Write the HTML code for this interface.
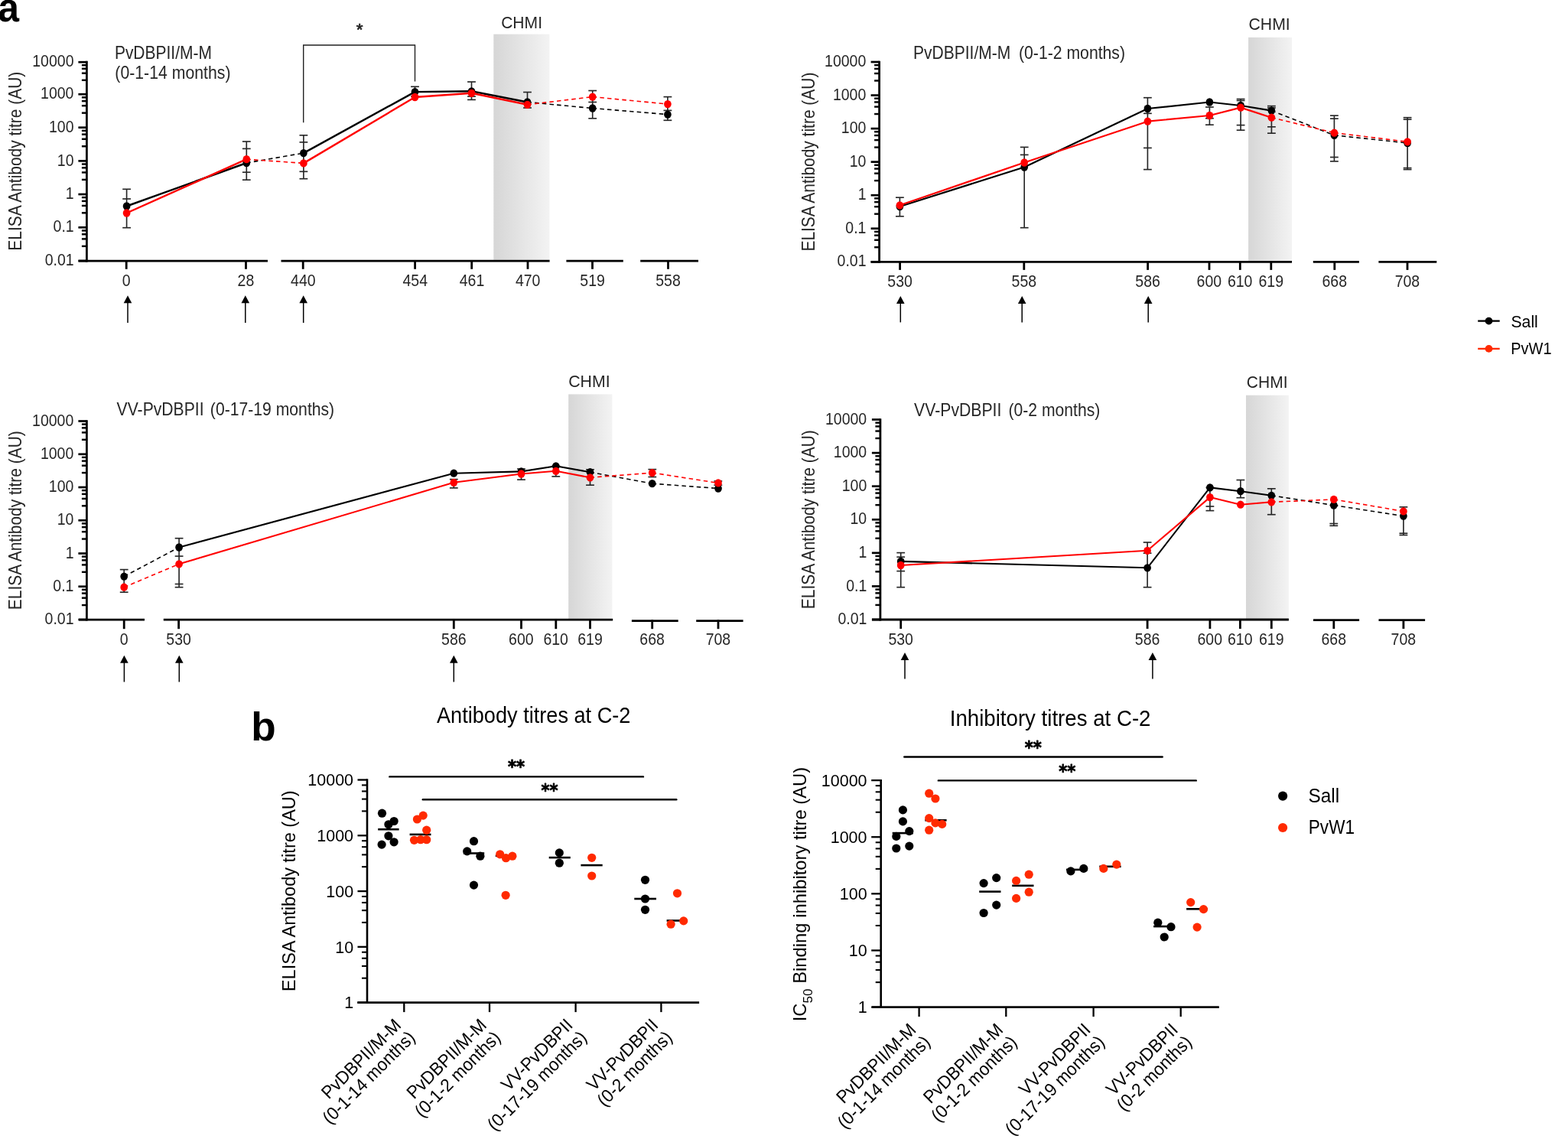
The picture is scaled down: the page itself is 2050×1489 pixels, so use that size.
<!DOCTYPE html>
<html><head><meta charset="utf-8"><title>Figure</title><style>html,body{margin:0;padding:0;background:#fff;}svg{display:block;}</style></head><body>
<svg width="2050" height="1489" viewBox="0 0 2050 1489" font-family="'Liberation Sans', Arial, sans-serif">
<rect width="2050" height="1489" fill="#fff"/>
<text x="-2.80" y="27.80" font-size="53.00" fill="#000" font-weight="bold" textLength="27.76" lengthAdjust="spacingAndGlyphs" xml:space="preserve">a</text>
<text x="328.35" y="968.20" font-size="51.00" fill="#000" font-weight="bold" textLength="32.42" lengthAdjust="spacingAndGlyphs" xml:space="preserve">b</text>
<defs><linearGradient id="g1" x1="0" y1="0" x2="1" y2="0"><stop offset="0" stop-color="#d6d6d6"/><stop offset="1" stop-color="#f3f3f3"/></linearGradient></defs>
<rect x="645.30" y="44.70" width="73.10" height="295.10" fill="url(#g1)"/>
<text x="655.15" y="37.30" font-size="22.60" fill="#262626" textLength="53.86" lengthAdjust="spacingAndGlyphs" xml:space="preserve">CHMI</text>
<line x1="113.40" y1="79.85" x2="113.40" y2="342.40" stroke="#000" stroke-width="2.8" stroke-linecap="butt"/>
<line x1="102.40" y1="81.20" x2="113.40" y2="81.20" stroke="#000" stroke-width="2.7" stroke-linecap="butt"/>
<line x1="106.90" y1="85.19" x2="113.40" y2="85.19" stroke="#000" stroke-width="2.43" stroke-linecap="butt"/>
<line x1="106.90" y1="89.81" x2="113.40" y2="89.81" stroke="#000" stroke-width="2.43" stroke-linecap="butt"/>
<line x1="106.90" y1="95.69" x2="113.40" y2="95.69" stroke="#000" stroke-width="2.43" stroke-linecap="butt"/>
<line x1="106.90" y1="104.80" x2="113.40" y2="104.80" stroke="#000" stroke-width="2.43" stroke-linecap="butt"/>
<line x1="102.40" y1="123.20" x2="113.40" y2="123.20" stroke="#000" stroke-width="2.7" stroke-linecap="butt"/>
<line x1="106.90" y1="127.33" x2="113.40" y2="127.33" stroke="#000" stroke-width="2.43" stroke-linecap="butt"/>
<line x1="106.90" y1="132.12" x2="113.40" y2="132.12" stroke="#000" stroke-width="2.43" stroke-linecap="butt"/>
<line x1="106.90" y1="138.21" x2="113.40" y2="138.21" stroke="#000" stroke-width="2.43" stroke-linecap="butt"/>
<line x1="106.90" y1="147.65" x2="113.40" y2="147.65" stroke="#000" stroke-width="2.43" stroke-linecap="butt"/>
<line x1="102.40" y1="166.70" x2="113.40" y2="166.70" stroke="#000" stroke-width="2.7" stroke-linecap="butt"/>
<line x1="106.90" y1="170.85" x2="113.40" y2="170.85" stroke="#000" stroke-width="2.43" stroke-linecap="butt"/>
<line x1="106.90" y1="175.66" x2="113.40" y2="175.66" stroke="#000" stroke-width="2.43" stroke-linecap="butt"/>
<line x1="106.90" y1="181.78" x2="113.40" y2="181.78" stroke="#000" stroke-width="2.43" stroke-linecap="butt"/>
<line x1="106.90" y1="191.26" x2="113.40" y2="191.26" stroke="#000" stroke-width="2.43" stroke-linecap="butt"/>
<line x1="102.40" y1="210.40" x2="113.40" y2="210.40" stroke="#000" stroke-width="2.7" stroke-linecap="butt"/>
<line x1="106.90" y1="214.54" x2="113.40" y2="214.54" stroke="#000" stroke-width="2.43" stroke-linecap="butt"/>
<line x1="106.90" y1="219.34" x2="113.40" y2="219.34" stroke="#000" stroke-width="2.43" stroke-linecap="butt"/>
<line x1="106.90" y1="225.44" x2="113.40" y2="225.44" stroke="#000" stroke-width="2.43" stroke-linecap="butt"/>
<line x1="106.90" y1="234.90" x2="113.40" y2="234.90" stroke="#000" stroke-width="2.43" stroke-linecap="butt"/>
<line x1="102.40" y1="254.00" x2="113.40" y2="254.00" stroke="#000" stroke-width="2.7" stroke-linecap="butt"/>
<line x1="106.90" y1="258.11" x2="113.40" y2="258.11" stroke="#000" stroke-width="2.43" stroke-linecap="butt"/>
<line x1="106.90" y1="262.88" x2="113.40" y2="262.88" stroke="#000" stroke-width="2.43" stroke-linecap="butt"/>
<line x1="106.90" y1="268.94" x2="113.40" y2="268.94" stroke="#000" stroke-width="2.43" stroke-linecap="butt"/>
<line x1="106.90" y1="278.33" x2="113.40" y2="278.33" stroke="#000" stroke-width="2.43" stroke-linecap="butt"/>
<line x1="102.40" y1="297.30" x2="113.40" y2="297.30" stroke="#000" stroke-width="2.7" stroke-linecap="butt"/>
<line x1="106.90" y1="301.45" x2="113.40" y2="301.45" stroke="#000" stroke-width="2.43" stroke-linecap="butt"/>
<line x1="106.90" y1="306.26" x2="113.40" y2="306.26" stroke="#000" stroke-width="2.43" stroke-linecap="butt"/>
<line x1="106.90" y1="312.38" x2="113.40" y2="312.38" stroke="#000" stroke-width="2.43" stroke-linecap="butt"/>
<line x1="106.90" y1="321.86" x2="113.40" y2="321.86" stroke="#000" stroke-width="2.43" stroke-linecap="butt"/>
<line x1="102.40" y1="341.00" x2="113.40" y2="341.00" stroke="#000" stroke-width="2.7" stroke-linecap="butt"/>
<text x="42.27" y="87.30" font-size="22.00" fill="#262626" textLength="54.23" lengthAdjust="spacingAndGlyphs" xml:space="preserve">10000</text>
<text x="53.09" y="129.30" font-size="22.00" fill="#262626" textLength="43.38" lengthAdjust="spacingAndGlyphs" xml:space="preserve">1000</text>
<text x="64.02" y="172.80" font-size="22.00" fill="#262626" textLength="32.54" lengthAdjust="spacingAndGlyphs" xml:space="preserve">100</text>
<text x="74.84" y="216.50" font-size="22.00" fill="#262626" textLength="21.69" lengthAdjust="spacingAndGlyphs" xml:space="preserve">10</text>
<text x="85.85" y="260.10" font-size="22.00" fill="#262626" textLength="10.85" lengthAdjust="spacingAndGlyphs" xml:space="preserve">1</text>
<text x="69.57" y="303.40" font-size="22.00" fill="#262626" textLength="27.11" lengthAdjust="spacingAndGlyphs" xml:space="preserve">0.1</text>
<text x="58.75" y="347.10" font-size="22.00" fill="#262626" textLength="37.95" lengthAdjust="spacingAndGlyphs" xml:space="preserve">0.01</text>
<line x1="102.60" y1="341.20" x2="350.00" y2="341.20" stroke="#000" stroke-width="2.8" stroke-linecap="butt"/>
<line x1="367.50" y1="341.20" x2="718.60" y2="341.20" stroke="#000" stroke-width="2.8" stroke-linecap="butt"/>
<line x1="740.40" y1="341.20" x2="814.80" y2="341.20" stroke="#000" stroke-width="2.8" stroke-linecap="butt"/>
<line x1="837.20" y1="341.20" x2="913.00" y2="341.20" stroke="#000" stroke-width="2.8" stroke-linecap="butt"/>
<line x1="165.20" y1="341.20" x2="165.20" y2="351.80" stroke="#000" stroke-width="2.8" stroke-linecap="butt"/>
<text x="159.74" y="373.60" font-size="22.00" fill="#262626" textLength="10.85" lengthAdjust="spacingAndGlyphs" xml:space="preserve">0</text>
<line x1="321.50" y1="341.20" x2="321.50" y2="351.80" stroke="#000" stroke-width="2.8" stroke-linecap="butt"/>
<text x="310.58" y="373.60" font-size="22.00" fill="#262626" textLength="21.69" lengthAdjust="spacingAndGlyphs" xml:space="preserve">28</text>
<line x1="396.20" y1="341.20" x2="396.20" y2="351.80" stroke="#000" stroke-width="2.8" stroke-linecap="butt"/>
<text x="380.11" y="373.60" font-size="22.00" fill="#262626" textLength="32.54" lengthAdjust="spacingAndGlyphs" xml:space="preserve">440</text>
<line x1="542.60" y1="341.20" x2="542.60" y2="351.80" stroke="#000" stroke-width="2.8" stroke-linecap="butt"/>
<text x="526.46" y="373.60" font-size="22.00" fill="#262626" textLength="32.54" lengthAdjust="spacingAndGlyphs" xml:space="preserve">454</text>
<line x1="616.70" y1="341.20" x2="616.70" y2="351.80" stroke="#000" stroke-width="2.8" stroke-linecap="butt"/>
<text x="600.71" y="373.60" font-size="22.00" fill="#262626" textLength="32.54" lengthAdjust="spacingAndGlyphs" xml:space="preserve">461</text>
<line x1="690.00" y1="341.20" x2="690.00" y2="351.80" stroke="#000" stroke-width="2.8" stroke-linecap="butt"/>
<text x="673.91" y="373.60" font-size="22.00" fill="#262626" textLength="32.54" lengthAdjust="spacingAndGlyphs" xml:space="preserve">470</text>
<line x1="774.50" y1="341.20" x2="774.50" y2="351.80" stroke="#000" stroke-width="2.8" stroke-linecap="butt"/>
<text x="758.32" y="373.60" font-size="22.00" fill="#262626" textLength="32.54" lengthAdjust="spacingAndGlyphs" xml:space="preserve">519</text>
<line x1="873.50" y1="341.20" x2="873.50" y2="351.80" stroke="#000" stroke-width="2.8" stroke-linecap="butt"/>
<text x="857.27" y="373.60" font-size="22.00" fill="#262626" textLength="32.54" lengthAdjust="spacingAndGlyphs" xml:space="preserve">558</text>
<line x1="167.00" y1="395.30" x2="167.00" y2="422.00" stroke="#000" stroke-width="1.5" stroke-linecap="butt"/>
<path d="M161.70,396.30 L167.00,386.30 L172.30,396.30 Z" fill="#000"/>
<line x1="320.80" y1="395.30" x2="320.80" y2="422.00" stroke="#000" stroke-width="1.5" stroke-linecap="butt"/>
<path d="M315.50,396.30 L320.80,386.30 L326.10,396.30 Z" fill="#000"/>
<line x1="396.70" y1="395.30" x2="396.70" y2="422.00" stroke="#000" stroke-width="1.5" stroke-linecap="butt"/>
<path d="M391.40,396.30 L396.70,386.30 L402.00,396.30 Z" fill="#000"/>
<text x="-89.38" y="210.50" font-size="24.00" fill="#262626" textLength="233.98" lengthAdjust="spacingAndGlyphs" transform="rotate(-90 27.80 210.50)" xml:space="preserve">ELISA Antibody titre (AU)</text>
<text x="149.92" y="77.10" font-size="23.20" fill="#262626" textLength="126.97" lengthAdjust="spacingAndGlyphs" xml:space="preserve">PvDBPII/M-M</text>
<text x="150.33" y="102.70" font-size="23.20" fill="#262626" textLength="151.14" lengthAdjust="spacingAndGlyphs" xml:space="preserve">(0-1-14 months)</text>
<path d="M396.7,160.3 L396.7,59 L542.5,59 L542.5,106.5" fill="none" stroke="#222" stroke-width="1.4"/>
<text x="465.66" y="46.39" font-size="21.43" fill="#222" textLength="8.86" lengthAdjust="spacingAndGlyphs" stroke="#222" stroke-width="0.7" stroke-linejoin="round">*</text>
<line x1="165.60" y1="247.30" x2="165.60" y2="297.70" stroke="#262626" stroke-width="1.65" stroke-linecap="butt"/>
<line x1="160.20" y1="247.30" x2="171.00" y2="247.30" stroke="#262626" stroke-width="1.65" stroke-linecap="butt"/>
<line x1="160.20" y1="260.00" x2="171.00" y2="260.00" stroke="#262626" stroke-width="1.65" stroke-linecap="butt"/>
<line x1="160.20" y1="297.70" x2="171.00" y2="297.70" stroke="#262626" stroke-width="1.65" stroke-linecap="butt"/>
<line x1="322.30" y1="185.00" x2="322.30" y2="235.20" stroke="#262626" stroke-width="1.65" stroke-linecap="butt"/>
<line x1="316.90" y1="185.00" x2="327.70" y2="185.00" stroke="#262626" stroke-width="1.65" stroke-linecap="butt"/>
<line x1="316.90" y1="194.40" x2="327.70" y2="194.40" stroke="#262626" stroke-width="1.65" stroke-linecap="butt"/>
<line x1="316.90" y1="225.20" x2="327.70" y2="225.20" stroke="#262626" stroke-width="1.65" stroke-linecap="butt"/>
<line x1="316.90" y1="235.20" x2="327.70" y2="235.20" stroke="#262626" stroke-width="1.65" stroke-linecap="butt"/>
<line x1="396.90" y1="176.80" x2="396.90" y2="233.70" stroke="#262626" stroke-width="1.65" stroke-linecap="butt"/>
<line x1="391.50" y1="176.80" x2="402.30" y2="176.80" stroke="#262626" stroke-width="1.65" stroke-linecap="butt"/>
<line x1="391.50" y1="185.90" x2="402.30" y2="185.90" stroke="#262626" stroke-width="1.65" stroke-linecap="butt"/>
<line x1="391.50" y1="224.30" x2="402.30" y2="224.30" stroke="#262626" stroke-width="1.65" stroke-linecap="butt"/>
<line x1="391.50" y1="233.70" x2="402.30" y2="233.70" stroke="#262626" stroke-width="1.65" stroke-linecap="butt"/>
<line x1="542.50" y1="113.30" x2="542.50" y2="126.00" stroke="#262626" stroke-width="1.65" stroke-linecap="butt"/>
<line x1="537.10" y1="113.30" x2="547.90" y2="113.30" stroke="#262626" stroke-width="1.65" stroke-linecap="butt"/>
<line x1="537.10" y1="126.00" x2="547.90" y2="126.00" stroke="#262626" stroke-width="1.65" stroke-linecap="butt"/>
<line x1="616.50" y1="107.00" x2="616.50" y2="130.40" stroke="#262626" stroke-width="1.65" stroke-linecap="butt"/>
<line x1="611.10" y1="107.00" x2="621.90" y2="107.00" stroke="#262626" stroke-width="1.65" stroke-linecap="butt"/>
<line x1="611.10" y1="126.10" x2="621.90" y2="126.10" stroke="#262626" stroke-width="1.65" stroke-linecap="butt"/>
<line x1="611.10" y1="130.40" x2="621.90" y2="130.40" stroke="#262626" stroke-width="1.65" stroke-linecap="butt"/>
<line x1="689.50" y1="120.50" x2="689.50" y2="141.00" stroke="#262626" stroke-width="1.65" stroke-linecap="butt"/>
<line x1="684.10" y1="120.50" x2="694.90" y2="120.50" stroke="#262626" stroke-width="1.65" stroke-linecap="butt"/>
<line x1="684.10" y1="141.00" x2="694.90" y2="141.00" stroke="#262626" stroke-width="1.65" stroke-linecap="butt"/>
<line x1="774.70" y1="118.50" x2="774.70" y2="154.80" stroke="#262626" stroke-width="1.65" stroke-linecap="butt"/>
<line x1="769.30" y1="118.50" x2="780.10" y2="118.50" stroke="#262626" stroke-width="1.65" stroke-linecap="butt"/>
<line x1="769.30" y1="133.50" x2="780.10" y2="133.50" stroke="#262626" stroke-width="1.65" stroke-linecap="butt"/>
<line x1="769.30" y1="154.80" x2="780.10" y2="154.80" stroke="#262626" stroke-width="1.65" stroke-linecap="butt"/>
<line x1="872.90" y1="126.60" x2="872.90" y2="157.30" stroke="#262626" stroke-width="1.65" stroke-linecap="butt"/>
<line x1="867.50" y1="126.60" x2="878.30" y2="126.60" stroke="#262626" stroke-width="1.65" stroke-linecap="butt"/>
<line x1="867.50" y1="144.40" x2="878.30" y2="144.40" stroke="#262626" stroke-width="1.65" stroke-linecap="butt"/>
<line x1="867.50" y1="157.30" x2="878.30" y2="157.30" stroke="#262626" stroke-width="1.65" stroke-linecap="butt"/>
<line x1="165.60" y1="269.50" x2="322.30" y2="213.00" stroke="#000" stroke-width="2.4" stroke-linecap="round"/>
<line x1="322.30" y1="213.00" x2="396.90" y2="200.10" stroke="#000" stroke-width="1.6" stroke-linecap="butt" stroke-dasharray="5.5,4.2"/>
<line x1="396.90" y1="200.10" x2="542.50" y2="120.10" stroke="#000" stroke-width="2.4" stroke-linecap="round"/>
<line x1="542.50" y1="120.10" x2="616.50" y2="119.30" stroke="#000" stroke-width="2.4" stroke-linecap="round"/>
<line x1="616.50" y1="119.30" x2="689.50" y2="133.50" stroke="#000" stroke-width="2.4" stroke-linecap="round"/>
<line x1="689.50" y1="133.50" x2="774.70" y2="141.50" stroke="#000" stroke-width="1.6" stroke-linecap="butt" stroke-dasharray="5.5,4.2"/>
<line x1="774.70" y1="141.50" x2="872.90" y2="149.60" stroke="#000" stroke-width="1.6" stroke-linecap="butt" stroke-dasharray="5.5,4.2"/>
<line x1="165.60" y1="278.50" x2="322.30" y2="208.20" stroke="#ff0000" stroke-width="2.4" stroke-linecap="round"/>
<line x1="322.30" y1="208.20" x2="396.90" y2="213.40" stroke="#ff0000" stroke-width="1.6" stroke-linecap="butt" stroke-dasharray="5.5,4.2"/>
<line x1="396.90" y1="213.40" x2="542.50" y2="127.00" stroke="#ff0000" stroke-width="2.4" stroke-linecap="round"/>
<line x1="542.50" y1="127.00" x2="616.50" y2="121.80" stroke="#ff0000" stroke-width="2.4" stroke-linecap="round"/>
<line x1="616.50" y1="121.80" x2="689.50" y2="136.80" stroke="#ff0000" stroke-width="2.4" stroke-linecap="round"/>
<line x1="689.50" y1="136.80" x2="774.70" y2="126.60" stroke="#ff0000" stroke-width="1.6" stroke-linecap="butt" stroke-dasharray="5.5,4.2"/>
<line x1="774.70" y1="126.60" x2="872.90" y2="136.10" stroke="#ff0000" stroke-width="1.6" stroke-linecap="butt" stroke-dasharray="5.5,4.2"/>
<ellipse cx="165.60" cy="269.50" rx="4.85" ry="5.15" fill="#000"/>
<ellipse cx="322.30" cy="213.00" rx="4.85" ry="5.15" fill="#000"/>
<ellipse cx="396.90" cy="200.10" rx="4.85" ry="5.15" fill="#000"/>
<ellipse cx="542.50" cy="120.10" rx="4.85" ry="5.15" fill="#000"/>
<ellipse cx="616.50" cy="119.30" rx="4.85" ry="5.15" fill="#000"/>
<ellipse cx="689.50" cy="133.50" rx="4.85" ry="5.15" fill="#000"/>
<ellipse cx="774.70" cy="141.50" rx="4.85" ry="5.15" fill="#000"/>
<ellipse cx="872.90" cy="149.60" rx="4.85" ry="5.15" fill="#000"/>
<ellipse cx="165.60" cy="278.50" rx="4.85" ry="5.15" fill="#ff0000"/>
<ellipse cx="322.30" cy="208.20" rx="4.85" ry="5.15" fill="#ff0000"/>
<ellipse cx="396.90" cy="213.40" rx="4.85" ry="5.15" fill="#ff0000"/>
<ellipse cx="542.50" cy="127.00" rx="4.85" ry="5.15" fill="#ff0000"/>
<ellipse cx="616.50" cy="121.80" rx="4.85" ry="5.15" fill="#ff0000"/>
<ellipse cx="689.50" cy="136.80" rx="4.85" ry="5.15" fill="#ff0000"/>
<ellipse cx="774.70" cy="126.60" rx="4.85" ry="5.15" fill="#ff0000"/>
<ellipse cx="872.90" cy="136.10" rx="4.85" ry="5.15" fill="#ff0000"/>
<defs><linearGradient id="g2" x1="0" y1="0" x2="1" y2="0"><stop offset="0" stop-color="#d6d6d6"/><stop offset="1" stop-color="#f3f3f3"/></linearGradient></defs>
<rect x="1632.10" y="48.90" width="56.90" height="291.90" fill="url(#g2)"/>
<text x="1632.54" y="38.80" font-size="22.60" fill="#262626" textLength="54.18" lengthAdjust="spacingAndGlyphs" xml:space="preserve">CHMI</text>
<line x1="1149.60" y1="79.65" x2="1149.60" y2="343.70" stroke="#000" stroke-width="2.8" stroke-linecap="butt"/>
<line x1="1138.60" y1="81.00" x2="1149.60" y2="81.00" stroke="#000" stroke-width="2.7" stroke-linecap="butt"/>
<line x1="1143.10" y1="85.14" x2="1149.60" y2="85.14" stroke="#000" stroke-width="2.43" stroke-linecap="butt"/>
<line x1="1143.10" y1="89.93" x2="1149.60" y2="89.93" stroke="#000" stroke-width="2.43" stroke-linecap="butt"/>
<line x1="1143.10" y1="96.02" x2="1149.60" y2="96.02" stroke="#000" stroke-width="2.43" stroke-linecap="butt"/>
<line x1="1143.10" y1="105.48" x2="1149.60" y2="105.48" stroke="#000" stroke-width="2.43" stroke-linecap="butt"/>
<line x1="1138.60" y1="124.55" x2="1149.60" y2="124.55" stroke="#000" stroke-width="2.7" stroke-linecap="butt"/>
<line x1="1143.10" y1="128.69" x2="1149.60" y2="128.69" stroke="#000" stroke-width="2.43" stroke-linecap="butt"/>
<line x1="1143.10" y1="133.48" x2="1149.60" y2="133.48" stroke="#000" stroke-width="2.43" stroke-linecap="butt"/>
<line x1="1143.10" y1="139.57" x2="1149.60" y2="139.57" stroke="#000" stroke-width="2.43" stroke-linecap="butt"/>
<line x1="1143.10" y1="149.03" x2="1149.60" y2="149.03" stroke="#000" stroke-width="2.43" stroke-linecap="butt"/>
<line x1="1138.60" y1="168.10" x2="1149.60" y2="168.10" stroke="#000" stroke-width="2.7" stroke-linecap="butt"/>
<line x1="1143.10" y1="172.24" x2="1149.60" y2="172.24" stroke="#000" stroke-width="2.43" stroke-linecap="butt"/>
<line x1="1143.10" y1="177.03" x2="1149.60" y2="177.03" stroke="#000" stroke-width="2.43" stroke-linecap="butt"/>
<line x1="1143.10" y1="183.12" x2="1149.60" y2="183.12" stroke="#000" stroke-width="2.43" stroke-linecap="butt"/>
<line x1="1143.10" y1="192.58" x2="1149.60" y2="192.58" stroke="#000" stroke-width="2.43" stroke-linecap="butt"/>
<line x1="1138.60" y1="211.65" x2="1149.60" y2="211.65" stroke="#000" stroke-width="2.7" stroke-linecap="butt"/>
<line x1="1143.10" y1="215.79" x2="1149.60" y2="215.79" stroke="#000" stroke-width="2.43" stroke-linecap="butt"/>
<line x1="1143.10" y1="220.58" x2="1149.60" y2="220.58" stroke="#000" stroke-width="2.43" stroke-linecap="butt"/>
<line x1="1143.10" y1="226.67" x2="1149.60" y2="226.67" stroke="#000" stroke-width="2.43" stroke-linecap="butt"/>
<line x1="1143.10" y1="236.13" x2="1149.60" y2="236.13" stroke="#000" stroke-width="2.43" stroke-linecap="butt"/>
<line x1="1138.60" y1="255.20" x2="1149.60" y2="255.20" stroke="#000" stroke-width="2.7" stroke-linecap="butt"/>
<line x1="1143.10" y1="259.34" x2="1149.60" y2="259.34" stroke="#000" stroke-width="2.43" stroke-linecap="butt"/>
<line x1="1143.10" y1="264.13" x2="1149.60" y2="264.13" stroke="#000" stroke-width="2.43" stroke-linecap="butt"/>
<line x1="1143.10" y1="270.22" x2="1149.60" y2="270.22" stroke="#000" stroke-width="2.43" stroke-linecap="butt"/>
<line x1="1143.10" y1="279.68" x2="1149.60" y2="279.68" stroke="#000" stroke-width="2.43" stroke-linecap="butt"/>
<line x1="1138.60" y1="298.75" x2="1149.60" y2="298.75" stroke="#000" stroke-width="2.7" stroke-linecap="butt"/>
<line x1="1143.10" y1="302.89" x2="1149.60" y2="302.89" stroke="#000" stroke-width="2.43" stroke-linecap="butt"/>
<line x1="1143.10" y1="307.68" x2="1149.60" y2="307.68" stroke="#000" stroke-width="2.43" stroke-linecap="butt"/>
<line x1="1143.10" y1="313.77" x2="1149.60" y2="313.77" stroke="#000" stroke-width="2.43" stroke-linecap="butt"/>
<line x1="1143.10" y1="323.23" x2="1149.60" y2="323.23" stroke="#000" stroke-width="2.43" stroke-linecap="butt"/>
<line x1="1138.60" y1="342.30" x2="1149.60" y2="342.30" stroke="#000" stroke-width="2.7" stroke-linecap="butt"/>
<text x="1078.07" y="87.10" font-size="22.00" fill="#262626" textLength="54.23" lengthAdjust="spacingAndGlyphs" xml:space="preserve">10000</text>
<text x="1088.89" y="130.65" font-size="22.00" fill="#262626" textLength="43.38" lengthAdjust="spacingAndGlyphs" xml:space="preserve">1000</text>
<text x="1099.81" y="174.20" font-size="22.00" fill="#262626" textLength="32.54" lengthAdjust="spacingAndGlyphs" xml:space="preserve">100</text>
<text x="1110.64" y="217.75" font-size="22.00" fill="#262626" textLength="21.69" lengthAdjust="spacingAndGlyphs" xml:space="preserve">10</text>
<text x="1121.65" y="261.30" font-size="22.00" fill="#262626" textLength="10.85" lengthAdjust="spacingAndGlyphs" xml:space="preserve">1</text>
<text x="1105.37" y="304.85" font-size="22.00" fill="#262626" textLength="27.11" lengthAdjust="spacingAndGlyphs" xml:space="preserve">0.1</text>
<text x="1094.55" y="348.40" font-size="22.00" fill="#262626" textLength="37.95" lengthAdjust="spacingAndGlyphs" xml:space="preserve">0.01</text>
<line x1="1138.50" y1="342.30" x2="1689.00" y2="342.30" stroke="#000" stroke-width="2.8" stroke-linecap="butt"/>
<line x1="1716.80" y1="342.30" x2="1776.90" y2="342.30" stroke="#000" stroke-width="2.8" stroke-linecap="butt"/>
<line x1="1802.40" y1="342.30" x2="1878.30" y2="342.30" stroke="#000" stroke-width="2.8" stroke-linecap="butt"/>
<line x1="1176.60" y1="342.30" x2="1176.60" y2="352.90" stroke="#000" stroke-width="2.8" stroke-linecap="butt"/>
<text x="1160.32" y="374.60" font-size="22.00" fill="#262626" textLength="32.54" lengthAdjust="spacingAndGlyphs" xml:space="preserve">530</text>
<line x1="1338.80" y1="342.30" x2="1338.80" y2="352.90" stroke="#000" stroke-width="2.8" stroke-linecap="butt"/>
<text x="1322.57" y="374.60" font-size="22.00" fill="#262626" textLength="32.54" lengthAdjust="spacingAndGlyphs" xml:space="preserve">558</text>
<line x1="1500.60" y1="342.30" x2="1500.60" y2="352.90" stroke="#000" stroke-width="2.8" stroke-linecap="butt"/>
<text x="1484.37" y="374.60" font-size="22.00" fill="#262626" textLength="32.54" lengthAdjust="spacingAndGlyphs" xml:space="preserve">586</text>
<line x1="1581.00" y1="342.30" x2="1581.00" y2="352.90" stroke="#000" stroke-width="2.8" stroke-linecap="butt"/>
<text x="1564.62" y="374.60" font-size="22.00" fill="#262626" textLength="32.54" lengthAdjust="spacingAndGlyphs" xml:space="preserve">600</text>
<line x1="1621.30" y1="342.30" x2="1621.30" y2="352.90" stroke="#000" stroke-width="2.8" stroke-linecap="butt"/>
<text x="1604.92" y="374.60" font-size="22.00" fill="#262626" textLength="32.54" lengthAdjust="spacingAndGlyphs" xml:space="preserve">610</text>
<line x1="1661.80" y1="342.30" x2="1661.80" y2="352.90" stroke="#000" stroke-width="2.8" stroke-linecap="butt"/>
<text x="1645.52" y="374.60" font-size="22.00" fill="#262626" textLength="32.54" lengthAdjust="spacingAndGlyphs" xml:space="preserve">619</text>
<line x1="1744.80" y1="342.30" x2="1744.80" y2="352.90" stroke="#000" stroke-width="2.8" stroke-linecap="butt"/>
<text x="1728.47" y="374.60" font-size="22.00" fill="#262626" textLength="32.54" lengthAdjust="spacingAndGlyphs" xml:space="preserve">668</text>
<line x1="1840.00" y1="342.30" x2="1840.00" y2="352.90" stroke="#000" stroke-width="2.8" stroke-linecap="butt"/>
<text x="1823.67" y="374.60" font-size="22.00" fill="#262626" textLength="32.54" lengthAdjust="spacingAndGlyphs" xml:space="preserve">708</text>
<line x1="1177.30" y1="395.90" x2="1177.30" y2="421.40" stroke="#000" stroke-width="1.5" stroke-linecap="butt"/>
<path d="M1172.00,396.90 L1177.30,386.90 L1182.60,396.90 Z" fill="#000"/>
<line x1="1336.20" y1="395.90" x2="1336.20" y2="421.40" stroke="#000" stroke-width="1.5" stroke-linecap="butt"/>
<path d="M1330.90,396.90 L1336.20,386.90 L1341.50,396.90 Z" fill="#000"/>
<line x1="1501.20" y1="395.90" x2="1501.20" y2="421.40" stroke="#000" stroke-width="1.5" stroke-linecap="butt"/>
<path d="M1495.90,396.90 L1501.20,386.90 L1506.50,396.90 Z" fill="#000"/>
<text x="948.12" y="211.40" font-size="24.00" fill="#262626" textLength="233.98" lengthAdjust="spacingAndGlyphs" transform="rotate(-90 1065.30 211.40)" xml:space="preserve">ELISA Antibody titre (AU)</text>
<text x="1194.12" y="76.80" font-size="23.20" fill="#262626" textLength="127.08" lengthAdjust="spacingAndGlyphs" xml:space="preserve">PvDBPII/M-M</text>
<text x="1332.03" y="76.80" font-size="23.20" fill="#262626" textLength="139.00" lengthAdjust="spacingAndGlyphs" xml:space="preserve">(0-1-2 months)</text>
<line x1="1176.40" y1="258.20" x2="1176.40" y2="282.80" stroke="#262626" stroke-width="1.65" stroke-linecap="butt"/>
<line x1="1171.00" y1="258.20" x2="1181.80" y2="258.20" stroke="#262626" stroke-width="1.65" stroke-linecap="butt"/>
<line x1="1171.00" y1="282.80" x2="1181.80" y2="282.80" stroke="#262626" stroke-width="1.65" stroke-linecap="butt"/>
<line x1="1339.20" y1="192.40" x2="1339.20" y2="297.70" stroke="#262626" stroke-width="1.65" stroke-linecap="butt"/>
<line x1="1333.80" y1="192.40" x2="1344.60" y2="192.40" stroke="#262626" stroke-width="1.65" stroke-linecap="butt"/>
<line x1="1333.80" y1="202.40" x2="1344.60" y2="202.40" stroke="#262626" stroke-width="1.65" stroke-linecap="butt"/>
<line x1="1333.80" y1="297.70" x2="1344.60" y2="297.70" stroke="#262626" stroke-width="1.65" stroke-linecap="butt"/>
<line x1="1500.40" y1="127.70" x2="1500.40" y2="221.60" stroke="#262626" stroke-width="1.65" stroke-linecap="butt"/>
<line x1="1495.00" y1="127.70" x2="1505.80" y2="127.70" stroke="#262626" stroke-width="1.65" stroke-linecap="butt"/>
<line x1="1495.00" y1="148.30" x2="1505.80" y2="148.30" stroke="#262626" stroke-width="1.65" stroke-linecap="butt"/>
<line x1="1495.00" y1="193.40" x2="1505.80" y2="193.40" stroke="#262626" stroke-width="1.65" stroke-linecap="butt"/>
<line x1="1495.00" y1="221.60" x2="1505.80" y2="221.60" stroke="#262626" stroke-width="1.65" stroke-linecap="butt"/>
<line x1="1581.40" y1="140.00" x2="1581.40" y2="163.20" stroke="#262626" stroke-width="1.65" stroke-linecap="butt"/>
<line x1="1576.00" y1="140.00" x2="1586.80" y2="140.00" stroke="#262626" stroke-width="1.65" stroke-linecap="butt"/>
<line x1="1576.00" y1="154.70" x2="1586.80" y2="154.70" stroke="#262626" stroke-width="1.65" stroke-linecap="butt"/>
<line x1="1576.00" y1="163.20" x2="1586.80" y2="163.20" stroke="#262626" stroke-width="1.65" stroke-linecap="butt"/>
<line x1="1622.10" y1="129.50" x2="1622.10" y2="170.20" stroke="#262626" stroke-width="1.65" stroke-linecap="butt"/>
<line x1="1616.70" y1="129.50" x2="1627.50" y2="129.50" stroke="#262626" stroke-width="1.65" stroke-linecap="butt"/>
<line x1="1616.70" y1="131.50" x2="1627.50" y2="131.50" stroke="#262626" stroke-width="1.65" stroke-linecap="butt"/>
<line x1="1616.70" y1="163.60" x2="1627.50" y2="163.60" stroke="#262626" stroke-width="1.65" stroke-linecap="butt"/>
<line x1="1616.70" y1="170.20" x2="1627.50" y2="170.20" stroke="#262626" stroke-width="1.65" stroke-linecap="butt"/>
<line x1="1662.40" y1="138.60" x2="1662.40" y2="174.20" stroke="#262626" stroke-width="1.65" stroke-linecap="butt"/>
<line x1="1657.00" y1="138.60" x2="1667.80" y2="138.60" stroke="#262626" stroke-width="1.65" stroke-linecap="butt"/>
<line x1="1657.00" y1="141.00" x2="1667.80" y2="141.00" stroke="#262626" stroke-width="1.65" stroke-linecap="butt"/>
<line x1="1657.00" y1="165.80" x2="1667.80" y2="165.80" stroke="#262626" stroke-width="1.65" stroke-linecap="butt"/>
<line x1="1657.00" y1="174.20" x2="1667.80" y2="174.20" stroke="#262626" stroke-width="1.65" stroke-linecap="butt"/>
<line x1="1744.40" y1="151.10" x2="1744.40" y2="210.90" stroke="#262626" stroke-width="1.65" stroke-linecap="butt"/>
<line x1="1739.00" y1="151.10" x2="1749.80" y2="151.10" stroke="#262626" stroke-width="1.65" stroke-linecap="butt"/>
<line x1="1739.00" y1="155.10" x2="1749.80" y2="155.10" stroke="#262626" stroke-width="1.65" stroke-linecap="butt"/>
<line x1="1739.00" y1="205.50" x2="1749.80" y2="205.50" stroke="#262626" stroke-width="1.65" stroke-linecap="butt"/>
<line x1="1739.00" y1="210.90" x2="1749.80" y2="210.90" stroke="#262626" stroke-width="1.65" stroke-linecap="butt"/>
<line x1="1840.10" y1="153.70" x2="1840.10" y2="221.60" stroke="#262626" stroke-width="1.65" stroke-linecap="butt"/>
<line x1="1834.70" y1="153.70" x2="1845.50" y2="153.70" stroke="#262626" stroke-width="1.65" stroke-linecap="butt"/>
<line x1="1834.70" y1="156.10" x2="1845.50" y2="156.10" stroke="#262626" stroke-width="1.65" stroke-linecap="butt"/>
<line x1="1834.70" y1="219.60" x2="1845.50" y2="219.60" stroke="#262626" stroke-width="1.65" stroke-linecap="butt"/>
<line x1="1834.70" y1="221.60" x2="1845.50" y2="221.60" stroke="#262626" stroke-width="1.65" stroke-linecap="butt"/>
<line x1="1176.40" y1="270.00" x2="1339.20" y2="218.50" stroke="#000" stroke-width="2.2" stroke-linecap="round"/>
<line x1="1339.20" y1="218.50" x2="1500.40" y2="142.00" stroke="#000" stroke-width="2.2" stroke-linecap="round"/>
<line x1="1500.40" y1="142.00" x2="1581.40" y2="133.50" stroke="#000" stroke-width="2.2" stroke-linecap="round"/>
<line x1="1581.40" y1="133.50" x2="1622.10" y2="138.00" stroke="#000" stroke-width="2.2" stroke-linecap="round"/>
<line x1="1622.10" y1="138.00" x2="1662.40" y2="144.60" stroke="#000" stroke-width="2.2" stroke-linecap="round"/>
<line x1="1662.40" y1="144.60" x2="1744.40" y2="176.80" stroke="#000" stroke-width="1.6" stroke-linecap="butt" stroke-dasharray="5.5,4.2"/>
<line x1="1744.40" y1="176.80" x2="1840.10" y2="187.00" stroke="#000" stroke-width="1.6" stroke-linecap="butt" stroke-dasharray="5.5,4.2"/>
<line x1="1176.40" y1="268.30" x2="1339.20" y2="212.50" stroke="#ff0000" stroke-width="2.2" stroke-linecap="round"/>
<line x1="1339.20" y1="212.50" x2="1500.40" y2="158.70" stroke="#ff0000" stroke-width="2.2" stroke-linecap="round"/>
<line x1="1500.40" y1="158.70" x2="1581.40" y2="151.00" stroke="#ff0000" stroke-width="2.2" stroke-linecap="round"/>
<line x1="1581.40" y1="151.00" x2="1622.10" y2="140.60" stroke="#ff0000" stroke-width="2.2" stroke-linecap="round"/>
<line x1="1622.10" y1="140.60" x2="1662.40" y2="153.70" stroke="#ff0000" stroke-width="2.2" stroke-linecap="round"/>
<line x1="1662.40" y1="153.70" x2="1744.40" y2="173.60" stroke="#ff0000" stroke-width="1.6" stroke-linecap="butt" stroke-dasharray="5.5,4.2"/>
<line x1="1744.40" y1="173.60" x2="1840.10" y2="185.30" stroke="#ff0000" stroke-width="1.6" stroke-linecap="butt" stroke-dasharray="5.5,4.2"/>
<ellipse cx="1176.40" cy="270.00" rx="4.85" ry="5.15" fill="#000"/>
<ellipse cx="1339.20" cy="218.50" rx="4.85" ry="5.15" fill="#000"/>
<ellipse cx="1500.40" cy="142.00" rx="4.85" ry="5.15" fill="#000"/>
<ellipse cx="1581.40" cy="133.50" rx="4.85" ry="5.15" fill="#000"/>
<ellipse cx="1622.10" cy="138.00" rx="4.85" ry="5.15" fill="#000"/>
<ellipse cx="1662.40" cy="144.60" rx="4.85" ry="5.15" fill="#000"/>
<ellipse cx="1744.40" cy="176.80" rx="4.85" ry="5.15" fill="#000"/>
<ellipse cx="1840.10" cy="187.00" rx="4.85" ry="5.15" fill="#000"/>
<ellipse cx="1176.40" cy="268.30" rx="4.85" ry="5.15" fill="#ff0000"/>
<ellipse cx="1339.20" cy="212.50" rx="4.85" ry="5.15" fill="#ff0000"/>
<ellipse cx="1500.40" cy="158.70" rx="4.85" ry="5.15" fill="#ff0000"/>
<ellipse cx="1581.40" cy="151.00" rx="4.85" ry="5.15" fill="#ff0000"/>
<ellipse cx="1622.10" cy="140.60" rx="4.85" ry="5.15" fill="#ff0000"/>
<ellipse cx="1662.40" cy="153.70" rx="4.85" ry="5.15" fill="#ff0000"/>
<ellipse cx="1744.40" cy="173.60" rx="4.85" ry="5.15" fill="#ff0000"/>
<ellipse cx="1840.10" cy="185.30" rx="4.85" ry="5.15" fill="#ff0000"/>
<line x1="1932.20" y1="419.60" x2="1960.70" y2="419.60" stroke="#000" stroke-width="2.3" stroke-linecap="butt"/>
<circle cx="1946.50" cy="419.60" r="4.9" fill="#000"/>
<text x="1975.45" y="427.70" font-size="22.30" fill="#000" textLength="35.39" lengthAdjust="spacingAndGlyphs" xml:space="preserve">Sall</text>
<line x1="1932.20" y1="455.90" x2="1960.70" y2="455.90" stroke="#ff2a00" stroke-width="2.3" stroke-linecap="butt"/>
<circle cx="1946.50" cy="455.90" r="4.9" fill="#ff2a00"/>
<text x="1975.20" y="462.80" font-size="22.30" fill="#000" textLength="53.34" lengthAdjust="spacingAndGlyphs" xml:space="preserve">PvW1</text>
<defs><linearGradient id="g3" x1="0" y1="0" x2="1" y2="0"><stop offset="0" stop-color="#d6d6d6"/><stop offset="1" stop-color="#f3f3f3"/></linearGradient></defs>
<rect x="743.20" y="515.40" width="57.20" height="293.60" fill="url(#g3)"/>
<text x="743.24" y="505.50" font-size="22.60" fill="#262626" textLength="54.39" lengthAdjust="spacingAndGlyphs" xml:space="preserve">CHMI</text>
<line x1="113.40" y1="549.15" x2="113.40" y2="811.40" stroke="#000" stroke-width="2.8" stroke-linecap="butt"/>
<line x1="102.40" y1="550.50" x2="113.40" y2="550.50" stroke="#000" stroke-width="2.7" stroke-linecap="butt"/>
<line x1="106.90" y1="554.61" x2="113.40" y2="554.61" stroke="#000" stroke-width="2.43" stroke-linecap="butt"/>
<line x1="106.90" y1="559.37" x2="113.40" y2="559.37" stroke="#000" stroke-width="2.43" stroke-linecap="butt"/>
<line x1="106.90" y1="565.42" x2="113.40" y2="565.42" stroke="#000" stroke-width="2.43" stroke-linecap="butt"/>
<line x1="106.90" y1="574.81" x2="113.40" y2="574.81" stroke="#000" stroke-width="2.43" stroke-linecap="butt"/>
<line x1="102.40" y1="593.75" x2="113.40" y2="593.75" stroke="#000" stroke-width="2.7" stroke-linecap="butt"/>
<line x1="106.90" y1="597.86" x2="113.40" y2="597.86" stroke="#000" stroke-width="2.43" stroke-linecap="butt"/>
<line x1="106.90" y1="602.62" x2="113.40" y2="602.62" stroke="#000" stroke-width="2.43" stroke-linecap="butt"/>
<line x1="106.90" y1="608.67" x2="113.40" y2="608.67" stroke="#000" stroke-width="2.43" stroke-linecap="butt"/>
<line x1="106.90" y1="618.06" x2="113.40" y2="618.06" stroke="#000" stroke-width="2.43" stroke-linecap="butt"/>
<line x1="102.40" y1="637.00" x2="113.40" y2="637.00" stroke="#000" stroke-width="2.7" stroke-linecap="butt"/>
<line x1="106.90" y1="641.11" x2="113.40" y2="641.11" stroke="#000" stroke-width="2.43" stroke-linecap="butt"/>
<line x1="106.90" y1="645.87" x2="113.40" y2="645.87" stroke="#000" stroke-width="2.43" stroke-linecap="butt"/>
<line x1="106.90" y1="651.92" x2="113.40" y2="651.92" stroke="#000" stroke-width="2.43" stroke-linecap="butt"/>
<line x1="106.90" y1="661.31" x2="113.40" y2="661.31" stroke="#000" stroke-width="2.43" stroke-linecap="butt"/>
<line x1="102.40" y1="680.25" x2="113.40" y2="680.25" stroke="#000" stroke-width="2.7" stroke-linecap="butt"/>
<line x1="106.90" y1="684.36" x2="113.40" y2="684.36" stroke="#000" stroke-width="2.43" stroke-linecap="butt"/>
<line x1="106.90" y1="689.12" x2="113.40" y2="689.12" stroke="#000" stroke-width="2.43" stroke-linecap="butt"/>
<line x1="106.90" y1="695.17" x2="113.40" y2="695.17" stroke="#000" stroke-width="2.43" stroke-linecap="butt"/>
<line x1="106.90" y1="704.56" x2="113.40" y2="704.56" stroke="#000" stroke-width="2.43" stroke-linecap="butt"/>
<line x1="102.40" y1="723.50" x2="113.40" y2="723.50" stroke="#000" stroke-width="2.7" stroke-linecap="butt"/>
<line x1="106.90" y1="727.61" x2="113.40" y2="727.61" stroke="#000" stroke-width="2.43" stroke-linecap="butt"/>
<line x1="106.90" y1="732.37" x2="113.40" y2="732.37" stroke="#000" stroke-width="2.43" stroke-linecap="butt"/>
<line x1="106.90" y1="738.42" x2="113.40" y2="738.42" stroke="#000" stroke-width="2.43" stroke-linecap="butt"/>
<line x1="106.90" y1="747.81" x2="113.40" y2="747.81" stroke="#000" stroke-width="2.43" stroke-linecap="butt"/>
<line x1="102.40" y1="766.75" x2="113.40" y2="766.75" stroke="#000" stroke-width="2.7" stroke-linecap="butt"/>
<line x1="106.90" y1="770.86" x2="113.40" y2="770.86" stroke="#000" stroke-width="2.43" stroke-linecap="butt"/>
<line x1="106.90" y1="775.62" x2="113.40" y2="775.62" stroke="#000" stroke-width="2.43" stroke-linecap="butt"/>
<line x1="106.90" y1="781.67" x2="113.40" y2="781.67" stroke="#000" stroke-width="2.43" stroke-linecap="butt"/>
<line x1="106.90" y1="791.06" x2="113.40" y2="791.06" stroke="#000" stroke-width="2.43" stroke-linecap="butt"/>
<line x1="102.40" y1="810.00" x2="113.40" y2="810.00" stroke="#000" stroke-width="2.7" stroke-linecap="butt"/>
<text x="42.07" y="556.60" font-size="22.00" fill="#262626" textLength="54.23" lengthAdjust="spacingAndGlyphs" xml:space="preserve">10000</text>
<text x="52.89" y="599.85" font-size="22.00" fill="#262626" textLength="43.38" lengthAdjust="spacingAndGlyphs" xml:space="preserve">1000</text>
<text x="63.81" y="643.10" font-size="22.00" fill="#262626" textLength="32.54" lengthAdjust="spacingAndGlyphs" xml:space="preserve">100</text>
<text x="74.64" y="686.35" font-size="22.00" fill="#262626" textLength="21.69" lengthAdjust="spacingAndGlyphs" xml:space="preserve">10</text>
<text x="85.66" y="729.60" font-size="22.00" fill="#262626" textLength="10.85" lengthAdjust="spacingAndGlyphs" xml:space="preserve">1</text>
<text x="69.37" y="772.85" font-size="22.00" fill="#262626" textLength="27.11" lengthAdjust="spacingAndGlyphs" xml:space="preserve">0.1</text>
<text x="58.55" y="816.10" font-size="22.00" fill="#262626" textLength="37.95" lengthAdjust="spacingAndGlyphs" xml:space="preserve">0.01</text>
<line x1="103.00" y1="810.20" x2="189.00" y2="810.20" stroke="#000" stroke-width="2.8" stroke-linecap="butt"/>
<line x1="213.80" y1="810.20" x2="801.20" y2="810.20" stroke="#000" stroke-width="2.8" stroke-linecap="butt"/>
<line x1="825.90" y1="811.70" x2="886.70" y2="811.70" stroke="#000" stroke-width="2.8" stroke-linecap="butt"/>
<line x1="910.20" y1="811.70" x2="971.60" y2="811.70" stroke="#000" stroke-width="2.8" stroke-linecap="butt"/>
<line x1="162.20" y1="810.20" x2="162.20" y2="822.20" stroke="#000" stroke-width="2.8" stroke-linecap="butt"/>
<text x="156.74" y="843.00" font-size="22.00" fill="#262626" textLength="10.85" lengthAdjust="spacingAndGlyphs" xml:space="preserve">0</text>
<line x1="233.60" y1="810.20" x2="233.60" y2="822.20" stroke="#000" stroke-width="2.8" stroke-linecap="butt"/>
<text x="217.32" y="843.00" font-size="22.00" fill="#262626" textLength="32.54" lengthAdjust="spacingAndGlyphs" xml:space="preserve">530</text>
<line x1="593.30" y1="810.20" x2="593.30" y2="822.20" stroke="#000" stroke-width="2.8" stroke-linecap="butt"/>
<text x="577.07" y="843.00" font-size="22.00" fill="#262626" textLength="32.54" lengthAdjust="spacingAndGlyphs" xml:space="preserve">586</text>
<line x1="681.50" y1="810.20" x2="681.50" y2="822.20" stroke="#000" stroke-width="2.8" stroke-linecap="butt"/>
<text x="665.12" y="843.00" font-size="22.00" fill="#262626" textLength="32.54" lengthAdjust="spacingAndGlyphs" xml:space="preserve">600</text>
<line x1="726.80" y1="810.20" x2="726.80" y2="822.20" stroke="#000" stroke-width="2.8" stroke-linecap="butt"/>
<text x="710.42" y="843.00" font-size="22.00" fill="#262626" textLength="32.54" lengthAdjust="spacingAndGlyphs" xml:space="preserve">610</text>
<line x1="771.50" y1="810.20" x2="771.50" y2="822.20" stroke="#000" stroke-width="2.8" stroke-linecap="butt"/>
<text x="755.22" y="843.00" font-size="22.00" fill="#262626" textLength="32.54" lengthAdjust="spacingAndGlyphs" xml:space="preserve">619</text>
<line x1="852.70" y1="810.20" x2="852.70" y2="822.20" stroke="#000" stroke-width="2.8" stroke-linecap="butt"/>
<text x="836.37" y="843.00" font-size="22.00" fill="#262626" textLength="32.54" lengthAdjust="spacingAndGlyphs" xml:space="preserve">668</text>
<line x1="939.00" y1="810.20" x2="939.00" y2="822.20" stroke="#000" stroke-width="2.8" stroke-linecap="butt"/>
<text x="922.67" y="843.00" font-size="22.00" fill="#262626" textLength="32.54" lengthAdjust="spacingAndGlyphs" xml:space="preserve">708</text>
<line x1="162.40" y1="865.80" x2="162.40" y2="891.50" stroke="#000" stroke-width="1.5" stroke-linecap="butt"/>
<path d="M157.10,866.80 L162.40,856.80 L167.70,866.80 Z" fill="#000"/>
<line x1="234.30" y1="865.80" x2="234.30" y2="891.50" stroke="#000" stroke-width="1.5" stroke-linecap="butt"/>
<path d="M229.00,866.80 L234.30,856.80 L239.60,866.80 Z" fill="#000"/>
<line x1="593.30" y1="865.80" x2="593.30" y2="891.50" stroke="#000" stroke-width="1.5" stroke-linecap="butt"/>
<path d="M588.00,866.80 L593.30,856.80 L598.60,866.80 Z" fill="#000"/>
<text x="-89.38" y="680.00" font-size="24.00" fill="#262626" textLength="233.98" lengthAdjust="spacingAndGlyphs" transform="rotate(-90 27.80 680.00)" xml:space="preserve">ELISA Antibody titre (AU)</text>
<text x="152.59" y="543.40" font-size="23.20" fill="#262626" textLength="113.93" lengthAdjust="spacingAndGlyphs" xml:space="preserve">VV-PvDBPII</text>
<text x="274.83" y="543.40" font-size="23.20" fill="#262626" textLength="162.35" lengthAdjust="spacingAndGlyphs" xml:space="preserve">(0-17-19 months)</text>
<line x1="162.20" y1="744.60" x2="162.20" y2="774.20" stroke="#262626" stroke-width="1.65" stroke-linecap="butt"/>
<line x1="156.80" y1="744.60" x2="167.60" y2="744.60" stroke="#262626" stroke-width="1.65" stroke-linecap="butt"/>
<line x1="156.80" y1="774.20" x2="167.60" y2="774.20" stroke="#262626" stroke-width="1.65" stroke-linecap="butt"/>
<line x1="234.10" y1="703.70" x2="234.10" y2="767.70" stroke="#262626" stroke-width="1.65" stroke-linecap="butt"/>
<line x1="228.70" y1="703.70" x2="239.50" y2="703.70" stroke="#262626" stroke-width="1.65" stroke-linecap="butt"/>
<line x1="228.70" y1="727.10" x2="239.50" y2="727.10" stroke="#262626" stroke-width="1.65" stroke-linecap="butt"/>
<line x1="228.70" y1="763.50" x2="239.50" y2="763.50" stroke="#262626" stroke-width="1.65" stroke-linecap="butt"/>
<line x1="228.70" y1="767.70" x2="239.50" y2="767.70" stroke="#262626" stroke-width="1.65" stroke-linecap="butt"/>
<line x1="593.30" y1="626.60" x2="593.30" y2="637.90" stroke="#262626" stroke-width="1.65" stroke-linecap="butt"/>
<line x1="587.90" y1="626.60" x2="598.70" y2="626.60" stroke="#262626" stroke-width="1.65" stroke-linecap="butt"/>
<line x1="587.90" y1="637.90" x2="598.70" y2="637.90" stroke="#262626" stroke-width="1.65" stroke-linecap="butt"/>
<line x1="681.50" y1="613.00" x2="681.50" y2="627.10" stroke="#262626" stroke-width="1.65" stroke-linecap="butt"/>
<line x1="676.10" y1="613.00" x2="686.90" y2="613.00" stroke="#262626" stroke-width="1.65" stroke-linecap="butt"/>
<line x1="676.10" y1="627.10" x2="686.90" y2="627.10" stroke="#262626" stroke-width="1.65" stroke-linecap="butt"/>
<line x1="726.80" y1="609.30" x2="726.80" y2="622.90" stroke="#262626" stroke-width="1.65" stroke-linecap="butt"/>
<line x1="721.40" y1="609.30" x2="732.20" y2="609.30" stroke="#262626" stroke-width="1.65" stroke-linecap="butt"/>
<line x1="721.40" y1="622.90" x2="732.20" y2="622.90" stroke="#262626" stroke-width="1.65" stroke-linecap="butt"/>
<line x1="771.50" y1="613.80" x2="771.50" y2="634.20" stroke="#262626" stroke-width="1.65" stroke-linecap="butt"/>
<line x1="766.10" y1="613.80" x2="776.90" y2="613.80" stroke="#262626" stroke-width="1.65" stroke-linecap="butt"/>
<line x1="766.10" y1="634.20" x2="776.90" y2="634.20" stroke="#262626" stroke-width="1.65" stroke-linecap="butt"/>
<line x1="852.80" y1="613.60" x2="852.80" y2="623.50" stroke="#262626" stroke-width="1.65" stroke-linecap="butt"/>
<line x1="847.40" y1="613.60" x2="858.20" y2="613.60" stroke="#262626" stroke-width="1.65" stroke-linecap="butt"/>
<line x1="847.40" y1="623.50" x2="858.20" y2="623.50" stroke="#262626" stroke-width="1.65" stroke-linecap="butt"/>
<line x1="938.80" y1="628.90" x2="938.80" y2="634.20" stroke="#262626" stroke-width="1.65" stroke-linecap="butt"/>
<line x1="933.40" y1="628.90" x2="944.20" y2="628.90" stroke="#262626" stroke-width="1.65" stroke-linecap="butt"/>
<line x1="933.40" y1="634.20" x2="944.20" y2="634.20" stroke="#262626" stroke-width="1.65" stroke-linecap="butt"/>
<line x1="162.20" y1="753.60" x2="234.10" y2="715.50" stroke="#000" stroke-width="1.6" stroke-linecap="butt" stroke-dasharray="5.5,4.2"/>
<line x1="234.10" y1="715.50" x2="593.30" y2="618.70" stroke="#000" stroke-width="2.1" stroke-linecap="round"/>
<line x1="593.30" y1="618.70" x2="681.50" y2="616.40" stroke="#000" stroke-width="2.1" stroke-linecap="round"/>
<line x1="681.50" y1="616.40" x2="726.80" y2="609.30" stroke="#000" stroke-width="2.1" stroke-linecap="round"/>
<line x1="726.80" y1="609.30" x2="771.50" y2="617.20" stroke="#000" stroke-width="2.1" stroke-linecap="round"/>
<line x1="771.50" y1="617.20" x2="852.70" y2="632.20" stroke="#000" stroke-width="1.6" stroke-linecap="butt" stroke-dasharray="5.5,4.2"/>
<line x1="852.70" y1="632.20" x2="939.00" y2="638.50" stroke="#000" stroke-width="1.6" stroke-linecap="butt" stroke-dasharray="5.5,4.2"/>
<line x1="162.20" y1="767.70" x2="234.10" y2="737.30" stroke="#ff0000" stroke-width="1.6" stroke-linecap="butt" stroke-dasharray="5.5,4.2"/>
<line x1="234.10" y1="737.30" x2="593.30" y2="630.80" stroke="#ff0000" stroke-width="2.1" stroke-linecap="round"/>
<line x1="593.30" y1="630.80" x2="681.50" y2="619.50" stroke="#ff0000" stroke-width="2.1" stroke-linecap="round"/>
<line x1="681.50" y1="619.50" x2="726.80" y2="615.80" stroke="#ff0000" stroke-width="2.1" stroke-linecap="round"/>
<line x1="726.80" y1="615.80" x2="771.50" y2="624.30" stroke="#ff0000" stroke-width="2.1" stroke-linecap="round"/>
<line x1="771.50" y1="624.30" x2="852.70" y2="618.10" stroke="#ff0000" stroke-width="1.6" stroke-linecap="butt" stroke-dasharray="5.5,4.2"/>
<line x1="852.70" y1="618.10" x2="939.00" y2="631.40" stroke="#ff0000" stroke-width="1.6" stroke-linecap="butt" stroke-dasharray="5.5,4.2"/>
<ellipse cx="162.20" cy="753.60" rx="4.85" ry="5.15" fill="#000"/>
<ellipse cx="234.10" cy="715.50" rx="4.85" ry="5.15" fill="#000"/>
<ellipse cx="593.30" cy="618.70" rx="4.85" ry="5.15" fill="#000"/>
<ellipse cx="681.50" cy="616.40" rx="4.85" ry="5.15" fill="#000"/>
<ellipse cx="726.80" cy="609.30" rx="4.85" ry="5.15" fill="#000"/>
<ellipse cx="771.50" cy="617.20" rx="4.85" ry="5.15" fill="#000"/>
<ellipse cx="852.70" cy="632.20" rx="4.85" ry="5.15" fill="#000"/>
<ellipse cx="939.00" cy="638.50" rx="4.85" ry="5.15" fill="#000"/>
<ellipse cx="162.20" cy="767.70" rx="4.85" ry="5.15" fill="#ff0000"/>
<ellipse cx="234.10" cy="737.30" rx="4.85" ry="5.15" fill="#ff0000"/>
<ellipse cx="593.30" cy="630.80" rx="4.85" ry="5.15" fill="#ff0000"/>
<ellipse cx="681.50" cy="619.50" rx="4.85" ry="5.15" fill="#ff0000"/>
<ellipse cx="726.80" cy="615.80" rx="4.85" ry="5.15" fill="#ff0000"/>
<ellipse cx="771.50" cy="624.30" rx="4.85" ry="5.15" fill="#ff0000"/>
<ellipse cx="852.70" cy="618.10" rx="4.85" ry="5.15" fill="#ff0000"/>
<ellipse cx="939.00" cy="631.40" rx="4.85" ry="5.15" fill="#ff0000"/>
<defs><linearGradient id="g4" x1="0" y1="0" x2="1" y2="0"><stop offset="0" stop-color="#d6d6d6"/><stop offset="1" stop-color="#f3f3f3"/></linearGradient></defs>
<rect x="1629.00" y="516.70" width="55.90" height="292.30" fill="url(#g4)"/>
<text x="1629.85" y="506.80" font-size="22.60" fill="#262626" textLength="53.65" lengthAdjust="spacingAndGlyphs" xml:space="preserve">CHMI</text>
<line x1="1150.90" y1="547.15" x2="1150.90" y2="811.40" stroke="#000" stroke-width="2.8" stroke-linecap="butt"/>
<line x1="1139.90" y1="548.50" x2="1150.90" y2="548.50" stroke="#000" stroke-width="2.7" stroke-linecap="butt"/>
<line x1="1144.40" y1="552.64" x2="1150.90" y2="552.64" stroke="#000" stroke-width="2.43" stroke-linecap="butt"/>
<line x1="1144.40" y1="557.43" x2="1150.90" y2="557.43" stroke="#000" stroke-width="2.43" stroke-linecap="butt"/>
<line x1="1144.40" y1="563.54" x2="1150.90" y2="563.54" stroke="#000" stroke-width="2.43" stroke-linecap="butt"/>
<line x1="1144.40" y1="572.99" x2="1150.90" y2="572.99" stroke="#000" stroke-width="2.43" stroke-linecap="butt"/>
<line x1="1139.90" y1="592.08" x2="1150.90" y2="592.08" stroke="#000" stroke-width="2.7" stroke-linecap="butt"/>
<line x1="1144.40" y1="596.22" x2="1150.90" y2="596.22" stroke="#000" stroke-width="2.43" stroke-linecap="butt"/>
<line x1="1144.40" y1="601.02" x2="1150.90" y2="601.02" stroke="#000" stroke-width="2.43" stroke-linecap="butt"/>
<line x1="1144.40" y1="607.12" x2="1150.90" y2="607.12" stroke="#000" stroke-width="2.43" stroke-linecap="butt"/>
<line x1="1144.40" y1="616.58" x2="1150.90" y2="616.58" stroke="#000" stroke-width="2.43" stroke-linecap="butt"/>
<line x1="1139.90" y1="635.67" x2="1150.90" y2="635.67" stroke="#000" stroke-width="2.7" stroke-linecap="butt"/>
<line x1="1144.40" y1="639.81" x2="1150.90" y2="639.81" stroke="#000" stroke-width="2.43" stroke-linecap="butt"/>
<line x1="1144.40" y1="644.60" x2="1150.90" y2="644.60" stroke="#000" stroke-width="2.43" stroke-linecap="butt"/>
<line x1="1144.40" y1="650.70" x2="1150.90" y2="650.70" stroke="#000" stroke-width="2.43" stroke-linecap="butt"/>
<line x1="1144.40" y1="660.16" x2="1150.90" y2="660.16" stroke="#000" stroke-width="2.43" stroke-linecap="butt"/>
<line x1="1139.90" y1="679.25" x2="1150.90" y2="679.25" stroke="#000" stroke-width="2.7" stroke-linecap="butt"/>
<line x1="1144.40" y1="683.39" x2="1150.90" y2="683.39" stroke="#000" stroke-width="2.43" stroke-linecap="butt"/>
<line x1="1144.40" y1="688.18" x2="1150.90" y2="688.18" stroke="#000" stroke-width="2.43" stroke-linecap="butt"/>
<line x1="1144.40" y1="694.29" x2="1150.90" y2="694.29" stroke="#000" stroke-width="2.43" stroke-linecap="butt"/>
<line x1="1144.40" y1="703.74" x2="1150.90" y2="703.74" stroke="#000" stroke-width="2.43" stroke-linecap="butt"/>
<line x1="1139.90" y1="722.83" x2="1150.90" y2="722.83" stroke="#000" stroke-width="2.7" stroke-linecap="butt"/>
<line x1="1144.40" y1="726.97" x2="1150.90" y2="726.97" stroke="#000" stroke-width="2.43" stroke-linecap="butt"/>
<line x1="1144.40" y1="731.77" x2="1150.90" y2="731.77" stroke="#000" stroke-width="2.43" stroke-linecap="butt"/>
<line x1="1144.40" y1="737.87" x2="1150.90" y2="737.87" stroke="#000" stroke-width="2.43" stroke-linecap="butt"/>
<line x1="1144.40" y1="747.33" x2="1150.90" y2="747.33" stroke="#000" stroke-width="2.43" stroke-linecap="butt"/>
<line x1="1139.90" y1="766.42" x2="1150.90" y2="766.42" stroke="#000" stroke-width="2.7" stroke-linecap="butt"/>
<line x1="1144.40" y1="770.56" x2="1150.90" y2="770.56" stroke="#000" stroke-width="2.43" stroke-linecap="butt"/>
<line x1="1144.40" y1="775.35" x2="1150.90" y2="775.35" stroke="#000" stroke-width="2.43" stroke-linecap="butt"/>
<line x1="1144.40" y1="781.45" x2="1150.90" y2="781.45" stroke="#000" stroke-width="2.43" stroke-linecap="butt"/>
<line x1="1144.40" y1="790.91" x2="1150.90" y2="790.91" stroke="#000" stroke-width="2.43" stroke-linecap="butt"/>
<line x1="1139.90" y1="810.00" x2="1150.90" y2="810.00" stroke="#000" stroke-width="2.7" stroke-linecap="butt"/>
<text x="1078.97" y="554.60" font-size="22.00" fill="#262626" textLength="54.23" lengthAdjust="spacingAndGlyphs" xml:space="preserve">10000</text>
<text x="1089.80" y="598.18" font-size="22.00" fill="#262626" textLength="43.38" lengthAdjust="spacingAndGlyphs" xml:space="preserve">1000</text>
<text x="1100.71" y="641.77" font-size="22.00" fill="#262626" textLength="32.54" lengthAdjust="spacingAndGlyphs" xml:space="preserve">100</text>
<text x="1111.54" y="685.35" font-size="22.00" fill="#262626" textLength="21.69" lengthAdjust="spacingAndGlyphs" xml:space="preserve">10</text>
<text x="1122.56" y="728.93" font-size="22.00" fill="#262626" textLength="10.85" lengthAdjust="spacingAndGlyphs" xml:space="preserve">1</text>
<text x="1106.27" y="772.52" font-size="22.00" fill="#262626" textLength="27.11" lengthAdjust="spacingAndGlyphs" xml:space="preserve">0.1</text>
<text x="1095.45" y="816.10" font-size="22.00" fill="#262626" textLength="37.95" lengthAdjust="spacingAndGlyphs" xml:space="preserve">0.01</text>
<line x1="1140.00" y1="810.00" x2="1684.90" y2="810.00" stroke="#000" stroke-width="2.8" stroke-linecap="butt"/>
<line x1="1717.00" y1="810.60" x2="1777.10" y2="810.60" stroke="#000" stroke-width="2.8" stroke-linecap="butt"/>
<line x1="1802.50" y1="810.60" x2="1863.10" y2="810.60" stroke="#000" stroke-width="2.8" stroke-linecap="butt"/>
<line x1="1177.70" y1="810.00" x2="1177.70" y2="822.00" stroke="#000" stroke-width="2.8" stroke-linecap="butt"/>
<text x="1161.42" y="843.00" font-size="22.00" fill="#262626" textLength="32.54" lengthAdjust="spacingAndGlyphs" xml:space="preserve">530</text>
<line x1="1500.10" y1="810.00" x2="1500.10" y2="822.00" stroke="#000" stroke-width="2.8" stroke-linecap="butt"/>
<text x="1483.87" y="843.00" font-size="22.00" fill="#262626" textLength="32.54" lengthAdjust="spacingAndGlyphs" xml:space="preserve">586</text>
<line x1="1581.90" y1="810.00" x2="1581.90" y2="822.00" stroke="#000" stroke-width="2.8" stroke-linecap="butt"/>
<text x="1565.52" y="843.00" font-size="22.00" fill="#262626" textLength="32.54" lengthAdjust="spacingAndGlyphs" xml:space="preserve">600</text>
<line x1="1621.40" y1="810.00" x2="1621.40" y2="822.00" stroke="#000" stroke-width="2.8" stroke-linecap="butt"/>
<text x="1605.02" y="843.00" font-size="22.00" fill="#262626" textLength="32.54" lengthAdjust="spacingAndGlyphs" xml:space="preserve">610</text>
<line x1="1662.30" y1="810.00" x2="1662.30" y2="822.00" stroke="#000" stroke-width="2.8" stroke-linecap="butt"/>
<text x="1646.02" y="843.00" font-size="22.00" fill="#262626" textLength="32.54" lengthAdjust="spacingAndGlyphs" xml:space="preserve">619</text>
<line x1="1743.80" y1="810.00" x2="1743.80" y2="822.00" stroke="#000" stroke-width="2.8" stroke-linecap="butt"/>
<text x="1727.47" y="843.00" font-size="22.00" fill="#262626" textLength="32.54" lengthAdjust="spacingAndGlyphs" xml:space="preserve">668</text>
<line x1="1834.90" y1="810.00" x2="1834.90" y2="822.00" stroke="#000" stroke-width="2.8" stroke-linecap="butt"/>
<text x="1818.57" y="843.00" font-size="22.00" fill="#262626" textLength="32.54" lengthAdjust="spacingAndGlyphs" xml:space="preserve">708</text>
<line x1="1183.00" y1="861.90" x2="1183.00" y2="887.60" stroke="#000" stroke-width="1.5" stroke-linecap="butt"/>
<path d="M1177.70,862.90 L1183.00,852.90 L1188.30,862.90 Z" fill="#000"/>
<line x1="1506.90" y1="861.90" x2="1506.90" y2="887.60" stroke="#000" stroke-width="1.5" stroke-linecap="butt"/>
<path d="M1501.60,862.90 L1506.90,852.90 L1512.20,862.90 Z" fill="#000"/>
<text x="948.12" y="679.00" font-size="24.00" fill="#262626" textLength="233.98" lengthAdjust="spacingAndGlyphs" transform="rotate(-90 1065.30 679.00)" xml:space="preserve">ELISA Antibody titre (AU)</text>
<text x="1195.09" y="543.50" font-size="23.20" fill="#262626" textLength="114.33" lengthAdjust="spacingAndGlyphs" xml:space="preserve">VV-PvDBPII</text>
<text x="1318.53" y="543.50" font-size="23.20" fill="#262626" textLength="119.71" lengthAdjust="spacingAndGlyphs" xml:space="preserve">(0-2 months)</text>
<line x1="1177.70" y1="722.60" x2="1177.70" y2="767.70" stroke="#262626" stroke-width="1.65" stroke-linecap="butt"/>
<line x1="1172.30" y1="722.60" x2="1183.10" y2="722.60" stroke="#262626" stroke-width="1.65" stroke-linecap="butt"/>
<line x1="1172.30" y1="728.20" x2="1183.10" y2="728.20" stroke="#262626" stroke-width="1.65" stroke-linecap="butt"/>
<line x1="1172.30" y1="746.60" x2="1183.10" y2="746.60" stroke="#262626" stroke-width="1.65" stroke-linecap="butt"/>
<line x1="1172.30" y1="767.70" x2="1183.10" y2="767.70" stroke="#262626" stroke-width="1.65" stroke-linecap="butt"/>
<line x1="1500.10" y1="709.00" x2="1500.10" y2="767.70" stroke="#262626" stroke-width="1.65" stroke-linecap="butt"/>
<line x1="1494.70" y1="709.00" x2="1505.50" y2="709.00" stroke="#262626" stroke-width="1.65" stroke-linecap="butt"/>
<line x1="1494.70" y1="723.20" x2="1505.50" y2="723.20" stroke="#262626" stroke-width="1.65" stroke-linecap="butt"/>
<line x1="1494.70" y1="767.70" x2="1505.50" y2="767.70" stroke="#262626" stroke-width="1.65" stroke-linecap="butt"/>
<line x1="1581.90" y1="637.40" x2="1581.90" y2="667.60" stroke="#262626" stroke-width="1.65" stroke-linecap="butt"/>
<line x1="1576.50" y1="637.40" x2="1587.30" y2="637.40" stroke="#262626" stroke-width="1.65" stroke-linecap="butt"/>
<line x1="1576.50" y1="662.00" x2="1587.30" y2="662.00" stroke="#262626" stroke-width="1.65" stroke-linecap="butt"/>
<line x1="1576.50" y1="667.60" x2="1587.30" y2="667.60" stroke="#262626" stroke-width="1.65" stroke-linecap="butt"/>
<line x1="1621.90" y1="627.50" x2="1621.90" y2="650.70" stroke="#262626" stroke-width="1.65" stroke-linecap="butt"/>
<line x1="1616.50" y1="627.50" x2="1627.30" y2="627.50" stroke="#262626" stroke-width="1.65" stroke-linecap="butt"/>
<line x1="1616.50" y1="650.70" x2="1627.30" y2="650.70" stroke="#262626" stroke-width="1.65" stroke-linecap="butt"/>
<line x1="1662.30" y1="638.80" x2="1662.30" y2="672.70" stroke="#262626" stroke-width="1.65" stroke-linecap="butt"/>
<line x1="1656.90" y1="638.80" x2="1667.70" y2="638.80" stroke="#262626" stroke-width="1.65" stroke-linecap="butt"/>
<line x1="1656.90" y1="672.70" x2="1667.70" y2="672.70" stroke="#262626" stroke-width="1.65" stroke-linecap="butt"/>
<line x1="1743.80" y1="660.50" x2="1743.80" y2="687.30" stroke="#262626" stroke-width="1.65" stroke-linecap="butt"/>
<line x1="1738.40" y1="660.50" x2="1749.20" y2="660.50" stroke="#262626" stroke-width="1.65" stroke-linecap="butt"/>
<line x1="1738.40" y1="684.50" x2="1749.20" y2="684.50" stroke="#262626" stroke-width="1.65" stroke-linecap="butt"/>
<line x1="1738.40" y1="687.30" x2="1749.20" y2="687.30" stroke="#262626" stroke-width="1.65" stroke-linecap="butt"/>
<line x1="1834.90" y1="662.80" x2="1834.90" y2="699.50" stroke="#262626" stroke-width="1.65" stroke-linecap="butt"/>
<line x1="1829.50" y1="662.80" x2="1840.30" y2="662.80" stroke="#262626" stroke-width="1.65" stroke-linecap="butt"/>
<line x1="1829.50" y1="697.20" x2="1840.30" y2="697.20" stroke="#262626" stroke-width="1.65" stroke-linecap="butt"/>
<line x1="1829.50" y1="699.50" x2="1840.30" y2="699.50" stroke="#262626" stroke-width="1.65" stroke-linecap="butt"/>
<line x1="1177.70" y1="733.90" x2="1500.10" y2="742.30" stroke="#000" stroke-width="2.1" stroke-linecap="round"/>
<line x1="1500.10" y1="742.30" x2="1581.90" y2="637.40" stroke="#000" stroke-width="2.1" stroke-linecap="round"/>
<line x1="1581.90" y1="637.40" x2="1621.90" y2="642.20" stroke="#000" stroke-width="2.1" stroke-linecap="round"/>
<line x1="1621.90" y1="642.20" x2="1662.30" y2="647.80" stroke="#000" stroke-width="2.1" stroke-linecap="round"/>
<line x1="1662.30" y1="647.80" x2="1743.80" y2="660.50" stroke="#000" stroke-width="1.6" stroke-linecap="butt" stroke-dasharray="5.5,4.2"/>
<line x1="1743.80" y1="660.50" x2="1834.90" y2="674.60" stroke="#000" stroke-width="1.6" stroke-linecap="butt" stroke-dasharray="5.5,4.2"/>
<line x1="1177.70" y1="739.00" x2="1500.10" y2="719.80" stroke="#ff0000" stroke-width="2.1" stroke-linecap="round"/>
<line x1="1500.10" y1="719.80" x2="1581.90" y2="650.10" stroke="#ff0000" stroke-width="2.1" stroke-linecap="round"/>
<line x1="1581.90" y1="650.10" x2="1621.90" y2="659.70" stroke="#ff0000" stroke-width="2.1" stroke-linecap="round"/>
<line x1="1621.90" y1="659.70" x2="1662.30" y2="656.30" stroke="#ff0000" stroke-width="2.1" stroke-linecap="round"/>
<line x1="1662.30" y1="656.30" x2="1743.80" y2="652.90" stroke="#ff0000" stroke-width="1.6" stroke-linecap="butt" stroke-dasharray="5.5,4.2"/>
<line x1="1743.80" y1="652.90" x2="1834.90" y2="668.40" stroke="#ff0000" stroke-width="1.6" stroke-linecap="butt" stroke-dasharray="5.5,4.2"/>
<ellipse cx="1177.70" cy="733.90" rx="4.85" ry="5.15" fill="#000"/>
<ellipse cx="1500.10" cy="742.30" rx="4.85" ry="5.15" fill="#000"/>
<ellipse cx="1581.90" cy="637.40" rx="4.85" ry="5.15" fill="#000"/>
<ellipse cx="1621.90" cy="642.20" rx="4.85" ry="5.15" fill="#000"/>
<ellipse cx="1662.30" cy="647.80" rx="4.85" ry="5.15" fill="#000"/>
<ellipse cx="1743.80" cy="660.50" rx="4.85" ry="5.15" fill="#000"/>
<ellipse cx="1834.90" cy="674.60" rx="4.85" ry="5.15" fill="#000"/>
<ellipse cx="1177.70" cy="739.00" rx="4.85" ry="5.15" fill="#ff0000"/>
<ellipse cx="1500.10" cy="719.80" rx="4.85" ry="5.15" fill="#ff0000"/>
<ellipse cx="1581.90" cy="650.10" rx="4.85" ry="5.15" fill="#ff0000"/>
<ellipse cx="1621.90" cy="659.70" rx="4.85" ry="5.15" fill="#ff0000"/>
<ellipse cx="1662.30" cy="656.30" rx="4.85" ry="5.15" fill="#ff0000"/>
<ellipse cx="1743.80" cy="652.90" rx="4.85" ry="5.15" fill="#ff0000"/>
<ellipse cx="1834.90" cy="668.40" rx="4.85" ry="5.15" fill="#ff0000"/>
<line x1="480.00" y1="1018.35" x2="480.00" y2="1311.90" stroke="#000" stroke-width="2.6" stroke-linecap="butt"/>
<line x1="467.50" y1="1019.50" x2="480.00" y2="1019.50" stroke="#000" stroke-width="2.3" stroke-linecap="butt"/>
<line x1="473.00" y1="1026.41" x2="480.00" y2="1026.41" stroke="#000" stroke-width="2.07" stroke-linecap="butt"/>
<line x1="473.00" y1="1034.42" x2="480.00" y2="1034.42" stroke="#000" stroke-width="2.07" stroke-linecap="butt"/>
<line x1="473.00" y1="1044.61" x2="480.00" y2="1044.61" stroke="#000" stroke-width="2.07" stroke-linecap="butt"/>
<line x1="473.00" y1="1060.40" x2="480.00" y2="1060.40" stroke="#000" stroke-width="2.07" stroke-linecap="butt"/>
<line x1="467.50" y1="1092.28" x2="480.00" y2="1092.28" stroke="#000" stroke-width="2.3" stroke-linecap="butt"/>
<line x1="473.00" y1="1099.19" x2="480.00" y2="1099.19" stroke="#000" stroke-width="2.07" stroke-linecap="butt"/>
<line x1="473.00" y1="1107.19" x2="480.00" y2="1107.19" stroke="#000" stroke-width="2.07" stroke-linecap="butt"/>
<line x1="473.00" y1="1117.38" x2="480.00" y2="1117.38" stroke="#000" stroke-width="2.07" stroke-linecap="butt"/>
<line x1="473.00" y1="1133.17" x2="480.00" y2="1133.17" stroke="#000" stroke-width="2.07" stroke-linecap="butt"/>
<line x1="467.50" y1="1165.05" x2="480.00" y2="1165.05" stroke="#000" stroke-width="2.3" stroke-linecap="butt"/>
<line x1="473.00" y1="1171.96" x2="480.00" y2="1171.96" stroke="#000" stroke-width="2.07" stroke-linecap="butt"/>
<line x1="473.00" y1="1179.97" x2="480.00" y2="1179.97" stroke="#000" stroke-width="2.07" stroke-linecap="butt"/>
<line x1="473.00" y1="1190.16" x2="480.00" y2="1190.16" stroke="#000" stroke-width="2.07" stroke-linecap="butt"/>
<line x1="473.00" y1="1205.95" x2="480.00" y2="1205.95" stroke="#000" stroke-width="2.07" stroke-linecap="butt"/>
<line x1="467.50" y1="1237.82" x2="480.00" y2="1237.82" stroke="#000" stroke-width="2.3" stroke-linecap="butt"/>
<line x1="473.00" y1="1244.74" x2="480.00" y2="1244.74" stroke="#000" stroke-width="2.07" stroke-linecap="butt"/>
<line x1="473.00" y1="1252.74" x2="480.00" y2="1252.74" stroke="#000" stroke-width="2.07" stroke-linecap="butt"/>
<line x1="473.00" y1="1262.93" x2="480.00" y2="1262.93" stroke="#000" stroke-width="2.07" stroke-linecap="butt"/>
<line x1="473.00" y1="1278.72" x2="480.00" y2="1278.72" stroke="#000" stroke-width="2.07" stroke-linecap="butt"/>
<line x1="467.50" y1="1310.60" x2="480.00" y2="1310.60" stroke="#000" stroke-width="2.3" stroke-linecap="butt"/>
<text x="402.28" y="1027.34" font-size="22.40" fill="#000" textLength="59.79" lengthAdjust="spacingAndGlyphs" xml:space="preserve">10000</text>
<text x="414.22" y="1100.12" font-size="22.40" fill="#000" textLength="47.83" lengthAdjust="spacingAndGlyphs" xml:space="preserve">1000</text>
<text x="426.25" y="1172.89" font-size="22.40" fill="#000" textLength="35.87" lengthAdjust="spacingAndGlyphs" xml:space="preserve">100</text>
<text x="438.19" y="1245.66" font-size="22.40" fill="#000" textLength="23.92" lengthAdjust="spacingAndGlyphs" xml:space="preserve">10</text>
<text x="450.34" y="1318.44" font-size="22.40" fill="#000" textLength="11.96" lengthAdjust="spacingAndGlyphs" xml:space="preserve">1</text>
<line x1="467.30" y1="1310.60" x2="914.10" y2="1310.60" stroke="#000" stroke-width="2.6" stroke-linecap="butt"/>
<line x1="528.30" y1="1310.60" x2="528.30" y2="1323.10" stroke="#000" stroke-width="2.3" stroke-linecap="butt"/>
<line x1="640.00" y1="1310.60" x2="640.00" y2="1323.10" stroke="#000" stroke-width="2.3" stroke-linecap="butt"/>
<line x1="752.60" y1="1310.60" x2="752.60" y2="1323.10" stroke="#000" stroke-width="2.3" stroke-linecap="butt"/>
<line x1="864.40" y1="1310.60" x2="864.40" y2="1323.10" stroke="#000" stroke-width="2.3" stroke-linecap="butt"/>
<line x1="509.30" y1="1015.40" x2="841.00" y2="1015.40" stroke="#000" stroke-width="2.4" stroke-linecap="round"/>
<text x="664.08" y="1010.25" font-size="22.37" fill="#000" font-weight="bold" font-family="'DejaVu Sans', sans-serif" textLength="22.06" lengthAdjust="spacingAndGlyphs" stroke="#000" stroke-width="0.8" stroke-linejoin="round">**</text>
<line x1="552.80" y1="1045.20" x2="884.30" y2="1045.20" stroke="#000" stroke-width="2.4" stroke-linecap="round"/>
<text x="707.38" y="1041.35" font-size="22.37" fill="#000" font-weight="bold" font-family="'DejaVu Sans', sans-serif" textLength="22.06" lengthAdjust="spacingAndGlyphs" stroke="#000" stroke-width="0.8" stroke-linejoin="round">**</text>
<text x="571.00" y="945.10" font-size="28.60" fill="#000" textLength="253.43" lengthAdjust="spacingAndGlyphs" xml:space="preserve">Antibody titres at C-2</text>
<line x1="494.20" y1="1084.20" x2="521.60" y2="1084.20" stroke="#000" stroke-width="2.6" stroke-linecap="butt"/>
<line x1="535.60" y1="1090.90" x2="563.50" y2="1090.90" stroke="#000" stroke-width="2.6" stroke-linecap="butt"/>
<line x1="605.90" y1="1115.50" x2="633.20" y2="1115.50" stroke="#000" stroke-width="2.6" stroke-linecap="butt"/>
<line x1="647.80" y1="1118.80" x2="675.00" y2="1118.80" stroke="#000" stroke-width="2.6" stroke-linecap="butt"/>
<line x1="717.70" y1="1121.10" x2="745.80" y2="1121.10" stroke="#000" stroke-width="2.6" stroke-linecap="butt"/>
<line x1="759.40" y1="1131.10" x2="787.70" y2="1131.10" stroke="#000" stroke-width="2.6" stroke-linecap="butt"/>
<line x1="829.30" y1="1175.00" x2="858.00" y2="1175.00" stroke="#000" stroke-width="2.6" stroke-linecap="butt"/>
<line x1="871.60" y1="1203.50" x2="899.00" y2="1203.50" stroke="#000" stroke-width="2.6" stroke-linecap="butt"/>
<circle cx="499.50" cy="1063.20" r="5.6" fill="#000"/>
<circle cx="515.10" cy="1073.50" r="5.6" fill="#000"/>
<circle cx="507.90" cy="1077.80" r="5.6" fill="#000"/>
<circle cx="507.90" cy="1092.80" r="5.6" fill="#000"/>
<circle cx="499.10" cy="1104.10" r="5.6" fill="#000"/>
<circle cx="515.10" cy="1100.80" r="5.6" fill="#000"/>
<circle cx="619.50" cy="1099.70" r="5.6" fill="#000"/>
<circle cx="610.70" cy="1112.90" r="5.6" fill="#000"/>
<circle cx="627.90" cy="1119.20" r="5.6" fill="#000"/>
<circle cx="619.50" cy="1157.10" r="5.6" fill="#000"/>
<circle cx="731.30" cy="1114.90" r="5.6" fill="#000"/>
<circle cx="731.30" cy="1128.20" r="5.6" fill="#000"/>
<circle cx="843.50" cy="1150.30" r="5.6" fill="#000"/>
<circle cx="843.50" cy="1175.00" r="5.6" fill="#000"/>
<circle cx="843.50" cy="1189.30" r="5.6" fill="#000"/>
<circle cx="553.20" cy="1066.10" r="5.6" fill="#ff2a00"/>
<circle cx="545.40" cy="1071.00" r="5.6" fill="#ff2a00"/>
<circle cx="557.70" cy="1085.20" r="5.6" fill="#ff2a00"/>
<circle cx="541.50" cy="1098.30" r="5.6" fill="#ff2a00"/>
<circle cx="549.90" cy="1097.70" r="5.6" fill="#ff2a00"/>
<circle cx="557.70" cy="1097.70" r="5.6" fill="#ff2a00"/>
<circle cx="653.70" cy="1116.80" r="5.6" fill="#ff2a00"/>
<circle cx="661.50" cy="1121.70" r="5.6" fill="#ff2a00"/>
<circle cx="669.90" cy="1119.20" r="5.6" fill="#ff2a00"/>
<circle cx="661.10" cy="1170.30" r="5.6" fill="#ff2a00"/>
<circle cx="773.70" cy="1121.30" r="5.6" fill="#ff2a00"/>
<circle cx="773.70" cy="1145.00" r="5.6" fill="#ff2a00"/>
<circle cx="885.50" cy="1167.80" r="5.6" fill="#ff2a00"/>
<circle cx="893.70" cy="1203.90" r="5.6" fill="#ff2a00"/>
<circle cx="877.10" cy="1208.20" r="5.6" fill="#ff2a00"/>
<text x="390.36" y="1343.00" font-size="23.60" fill="#000" textLength="135.95" lengthAdjust="spacingAndGlyphs" transform="rotate(-45 524.50 1343.00)" xml:space="preserve">PvDBPII/M-M</text>
<text x="384.89" y="1358.84" font-size="23.60" fill="#000" textLength="159.71" lengthAdjust="spacingAndGlyphs" transform="rotate(-45 543.17 1358.84)" xml:space="preserve">(0-1-14 months)</text>
<text x="502.06" y="1343.00" font-size="23.60" fill="#000" textLength="135.95" lengthAdjust="spacingAndGlyphs" transform="rotate(-45 636.20 1343.00)" xml:space="preserve">PvDBPII/M-M</text>
<text x="509.05" y="1358.84" font-size="23.60" fill="#000" textLength="147.22" lengthAdjust="spacingAndGlyphs" transform="rotate(-45 654.87 1358.84)" xml:space="preserve">(0-1-2 months)</text>
<text x="629.82" y="1343.00" font-size="23.60" fill="#000" textLength="121.02" lengthAdjust="spacingAndGlyphs" transform="rotate(-45 748.80 1343.00)" xml:space="preserve">VV-PvDBPII</text>
<text x="596.74" y="1358.84" font-size="23.60" fill="#000" textLength="172.20" lengthAdjust="spacingAndGlyphs" transform="rotate(-45 767.47 1358.84)" xml:space="preserve">(0-17-19 months)</text>
<text x="741.62" y="1343.00" font-size="23.60" fill="#000" textLength="121.02" lengthAdjust="spacingAndGlyphs" transform="rotate(-45 860.60 1343.00)" xml:space="preserve">VV-PvDBPII</text>
<text x="753.44" y="1358.84" font-size="23.60" fill="#000" textLength="127.26" lengthAdjust="spacingAndGlyphs" transform="rotate(-45 879.27 1358.84)" xml:space="preserve">(0-2 months)</text>
<text x="254.67" y="1164.50" font-size="24.40" fill="#000" textLength="262.85" lengthAdjust="spacingAndGlyphs" transform="rotate(-90 386.30 1164.50)" xml:space="preserve">ELISA Antibody titre (AU)</text>
<line x1="1151.70" y1="1018.95" x2="1151.70" y2="1317.90" stroke="#000" stroke-width="2.6" stroke-linecap="butt"/>
<line x1="1139.20" y1="1020.10" x2="1151.70" y2="1020.10" stroke="#000" stroke-width="2.3" stroke-linecap="butt"/>
<line x1="1144.70" y1="1027.14" x2="1151.70" y2="1027.14" stroke="#000" stroke-width="2.07" stroke-linecap="butt"/>
<line x1="1144.70" y1="1035.30" x2="1151.70" y2="1035.30" stroke="#000" stroke-width="2.07" stroke-linecap="butt"/>
<line x1="1144.70" y1="1045.67" x2="1151.70" y2="1045.67" stroke="#000" stroke-width="2.07" stroke-linecap="butt"/>
<line x1="1144.70" y1="1061.76" x2="1151.70" y2="1061.76" stroke="#000" stroke-width="2.07" stroke-linecap="butt"/>
<line x1="1139.20" y1="1094.22" x2="1151.70" y2="1094.22" stroke="#000" stroke-width="2.3" stroke-linecap="butt"/>
<line x1="1144.70" y1="1101.27" x2="1151.70" y2="1101.27" stroke="#000" stroke-width="2.07" stroke-linecap="butt"/>
<line x1="1144.70" y1="1109.42" x2="1151.70" y2="1109.42" stroke="#000" stroke-width="2.07" stroke-linecap="butt"/>
<line x1="1144.70" y1="1119.80" x2="1151.70" y2="1119.80" stroke="#000" stroke-width="2.07" stroke-linecap="butt"/>
<line x1="1144.70" y1="1135.88" x2="1151.70" y2="1135.88" stroke="#000" stroke-width="2.07" stroke-linecap="butt"/>
<line x1="1139.20" y1="1168.35" x2="1151.70" y2="1168.35" stroke="#000" stroke-width="2.3" stroke-linecap="butt"/>
<line x1="1144.70" y1="1175.39" x2="1151.70" y2="1175.39" stroke="#000" stroke-width="2.07" stroke-linecap="butt"/>
<line x1="1144.70" y1="1183.55" x2="1151.70" y2="1183.55" stroke="#000" stroke-width="2.07" stroke-linecap="butt"/>
<line x1="1144.70" y1="1193.92" x2="1151.70" y2="1193.92" stroke="#000" stroke-width="2.07" stroke-linecap="butt"/>
<line x1="1144.70" y1="1210.01" x2="1151.70" y2="1210.01" stroke="#000" stroke-width="2.07" stroke-linecap="butt"/>
<line x1="1139.20" y1="1242.47" x2="1151.70" y2="1242.47" stroke="#000" stroke-width="2.3" stroke-linecap="butt"/>
<line x1="1144.70" y1="1249.52" x2="1151.70" y2="1249.52" stroke="#000" stroke-width="2.07" stroke-linecap="butt"/>
<line x1="1144.70" y1="1257.67" x2="1151.70" y2="1257.67" stroke="#000" stroke-width="2.07" stroke-linecap="butt"/>
<line x1="1144.70" y1="1268.05" x2="1151.70" y2="1268.05" stroke="#000" stroke-width="2.07" stroke-linecap="butt"/>
<line x1="1144.70" y1="1284.13" x2="1151.70" y2="1284.13" stroke="#000" stroke-width="2.07" stroke-linecap="butt"/>
<line x1="1139.20" y1="1316.60" x2="1151.70" y2="1316.60" stroke="#000" stroke-width="2.3" stroke-linecap="butt"/>
<text x="1073.78" y="1027.94" font-size="22.40" fill="#000" textLength="59.79" lengthAdjust="spacingAndGlyphs" xml:space="preserve">10000</text>
<text x="1085.71" y="1102.06" font-size="22.40" fill="#000" textLength="47.83" lengthAdjust="spacingAndGlyphs" xml:space="preserve">1000</text>
<text x="1097.75" y="1176.19" font-size="22.40" fill="#000" textLength="35.87" lengthAdjust="spacingAndGlyphs" xml:space="preserve">100</text>
<text x="1109.69" y="1250.31" font-size="22.40" fill="#000" textLength="23.92" lengthAdjust="spacingAndGlyphs" xml:space="preserve">10</text>
<text x="1121.84" y="1324.44" font-size="22.40" fill="#000" textLength="11.96" lengthAdjust="spacingAndGlyphs" xml:space="preserve">1</text>
<line x1="1139.80" y1="1316.60" x2="1593.80" y2="1316.60" stroke="#000" stroke-width="2.6" stroke-linecap="butt"/>
<line x1="1201.60" y1="1316.60" x2="1201.60" y2="1329.10" stroke="#000" stroke-width="2.3" stroke-linecap="butt"/>
<line x1="1315.30" y1="1316.60" x2="1315.30" y2="1329.10" stroke="#000" stroke-width="2.3" stroke-linecap="butt"/>
<line x1="1429.60" y1="1316.60" x2="1429.60" y2="1329.10" stroke="#000" stroke-width="2.3" stroke-linecap="butt"/>
<line x1="1543.70" y1="1316.60" x2="1543.70" y2="1329.10" stroke="#000" stroke-width="2.3" stroke-linecap="butt"/>
<line x1="1182.30" y1="989.50" x2="1519.70" y2="989.50" stroke="#000" stroke-width="2.4" stroke-linecap="round"/>
<text x="1339.78" y="984.75" font-size="22.37" fill="#000" font-weight="bold" font-family="'DejaVu Sans', sans-serif" textLength="22.06" lengthAdjust="spacingAndGlyphs" stroke="#000" stroke-width="0.8" stroke-linejoin="round">**</text>
<line x1="1226.80" y1="1020.40" x2="1563.80" y2="1020.40" stroke="#000" stroke-width="2.4" stroke-linecap="round"/>
<text x="1384.18" y="1015.55" font-size="22.37" fill="#000" font-weight="bold" font-family="'DejaVu Sans', sans-serif" textLength="22.06" lengthAdjust="spacingAndGlyphs" stroke="#000" stroke-width="0.8" stroke-linejoin="round">**</text>
<text x="1241.81" y="949.00" font-size="28.60" fill="#000" textLength="262.67" lengthAdjust="spacingAndGlyphs" xml:space="preserve">Inhibitory titres at C-2</text>
<line x1="1166.70" y1="1089.10" x2="1194.00" y2="1089.10" stroke="#000" stroke-width="2.6" stroke-linecap="butt"/>
<line x1="1209.30" y1="1072.30" x2="1237.60" y2="1072.30" stroke="#000" stroke-width="2.6" stroke-linecap="butt"/>
<line x1="1280.20" y1="1165.60" x2="1308.50" y2="1165.60" stroke="#000" stroke-width="2.6" stroke-linecap="butt"/>
<line x1="1323.20" y1="1157.80" x2="1351.50" y2="1157.80" stroke="#000" stroke-width="2.6" stroke-linecap="butt"/>
<line x1="1394.00" y1="1136.90" x2="1422.00" y2="1136.90" stroke="#000" stroke-width="2.6" stroke-linecap="butt"/>
<line x1="1437.30" y1="1132.80" x2="1465.60" y2="1132.80" stroke="#000" stroke-width="2.6" stroke-linecap="butt"/>
<line x1="1508.10" y1="1211.10" x2="1536.00" y2="1211.10" stroke="#000" stroke-width="2.6" stroke-linecap="butt"/>
<line x1="1551.10" y1="1188.30" x2="1579.00" y2="1188.30" stroke="#000" stroke-width="2.6" stroke-linecap="butt"/>
<circle cx="1180.40" cy="1058.90" r="5.6" fill="#000"/>
<circle cx="1180.40" cy="1073.90" r="5.6" fill="#000"/>
<circle cx="1188.80" cy="1086.60" r="5.6" fill="#000"/>
<circle cx="1171.80" cy="1093.40" r="5.6" fill="#000"/>
<circle cx="1171.80" cy="1109.00" r="5.6" fill="#000"/>
<circle cx="1188.80" cy="1106.10" r="5.6" fill="#000"/>
<circle cx="1286.10" cy="1154.60" r="5.6" fill="#000"/>
<circle cx="1302.70" cy="1147.60" r="5.6" fill="#000"/>
<circle cx="1302.70" cy="1183.10" r="5.6" fill="#000"/>
<circle cx="1286.10" cy="1193.50" r="5.6" fill="#000"/>
<circle cx="1399.90" cy="1138.90" r="5.6" fill="#000"/>
<circle cx="1416.80" cy="1135.40" r="5.6" fill="#000"/>
<circle cx="1513.80" cy="1206.20" r="5.6" fill="#000"/>
<circle cx="1531.00" cy="1211.70" r="5.6" fill="#000"/>
<circle cx="1522.20" cy="1225.00" r="5.6" fill="#000"/>
<circle cx="1214.70" cy="1037.20" r="5.6" fill="#ff2a00"/>
<circle cx="1222.90" cy="1044.00" r="5.6" fill="#ff2a00"/>
<circle cx="1214.70" cy="1069.60" r="5.6" fill="#ff2a00"/>
<circle cx="1222.90" cy="1075.90" r="5.6" fill="#ff2a00"/>
<circle cx="1231.70" cy="1077.40" r="5.6" fill="#ff2a00"/>
<circle cx="1214.70" cy="1085.20" r="5.6" fill="#ff2a00"/>
<circle cx="1328.60" cy="1151.40" r="5.6" fill="#ff2a00"/>
<circle cx="1345.20" cy="1143.20" r="5.6" fill="#ff2a00"/>
<circle cx="1345.20" cy="1166.20" r="5.6" fill="#ff2a00"/>
<circle cx="1328.60" cy="1174.40" r="5.6" fill="#ff2a00"/>
<circle cx="1442.80" cy="1135.40" r="5.6" fill="#ff2a00"/>
<circle cx="1459.80" cy="1130.10" r="5.6" fill="#ff2a00"/>
<circle cx="1556.70" cy="1179.60" r="5.6" fill="#ff2a00"/>
<circle cx="1573.50" cy="1188.60" r="5.6" fill="#ff2a00"/>
<circle cx="1565.10" cy="1212.10" r="5.6" fill="#ff2a00"/>
<text x="1063.66" y="1349.00" font-size="23.60" fill="#000" textLength="135.95" lengthAdjust="spacingAndGlyphs" transform="rotate(-45 1197.80 1349.00)" xml:space="preserve">PvDBPII/M-M</text>
<text x="1058.19" y="1364.84" font-size="23.60" fill="#000" textLength="159.71" lengthAdjust="spacingAndGlyphs" transform="rotate(-45 1216.47 1364.84)" xml:space="preserve">(0-1-14 months)</text>
<text x="1177.36" y="1349.00" font-size="23.60" fill="#000" textLength="135.95" lengthAdjust="spacingAndGlyphs" transform="rotate(-45 1311.50 1349.00)" xml:space="preserve">PvDBPII/M-M</text>
<text x="1184.35" y="1364.84" font-size="23.60" fill="#000" textLength="147.22" lengthAdjust="spacingAndGlyphs" transform="rotate(-45 1330.17 1364.84)" xml:space="preserve">(0-1-2 months)</text>
<text x="1306.82" y="1349.00" font-size="23.60" fill="#000" textLength="121.02" lengthAdjust="spacingAndGlyphs" transform="rotate(-45 1425.80 1349.00)" xml:space="preserve">VV-PvDBPII</text>
<text x="1273.74" y="1364.84" font-size="23.60" fill="#000" textLength="172.20" lengthAdjust="spacingAndGlyphs" transform="rotate(-45 1444.47 1364.84)" xml:space="preserve">(0-17-19 months)</text>
<text x="1420.92" y="1349.00" font-size="23.60" fill="#000" textLength="121.02" lengthAdjust="spacingAndGlyphs" transform="rotate(-45 1539.90 1349.00)" xml:space="preserve">VV-PvDBPII</text>
<text x="1432.74" y="1364.84" font-size="23.60" fill="#000" textLength="127.26" lengthAdjust="spacingAndGlyphs" transform="rotate(-45 1558.57 1364.84)" xml:space="preserve">(0-2 months)</text>
<g transform="rotate(-90 1054.00 1333.20)">
<text x="1051.86" y="1333.20" font-size="23.8" fill="#000" xml:space="preserve">IC<tspan font-size="17.14" dy="7.85">50</tspan><tspan dy="-7.85"> Binding inhibitory titre (AU)</tspan></text>
</g>
<circle cx="1677.10" cy="1040.60" r="6.1" fill="#000"/>
<circle cx="1677.10" cy="1082.00" r="6.1" fill="#ff2a00"/>
<text x="1710.50" y="1048.80" font-size="26.50" fill="#000" textLength="40.64" lengthAdjust="spacingAndGlyphs" xml:space="preserve">Sall</text>
<text x="1710.79" y="1090.20" font-size="26.50" fill="#000" textLength="60.27" lengthAdjust="spacingAndGlyphs" xml:space="preserve">PvW1</text>
</svg>
</body></html>
